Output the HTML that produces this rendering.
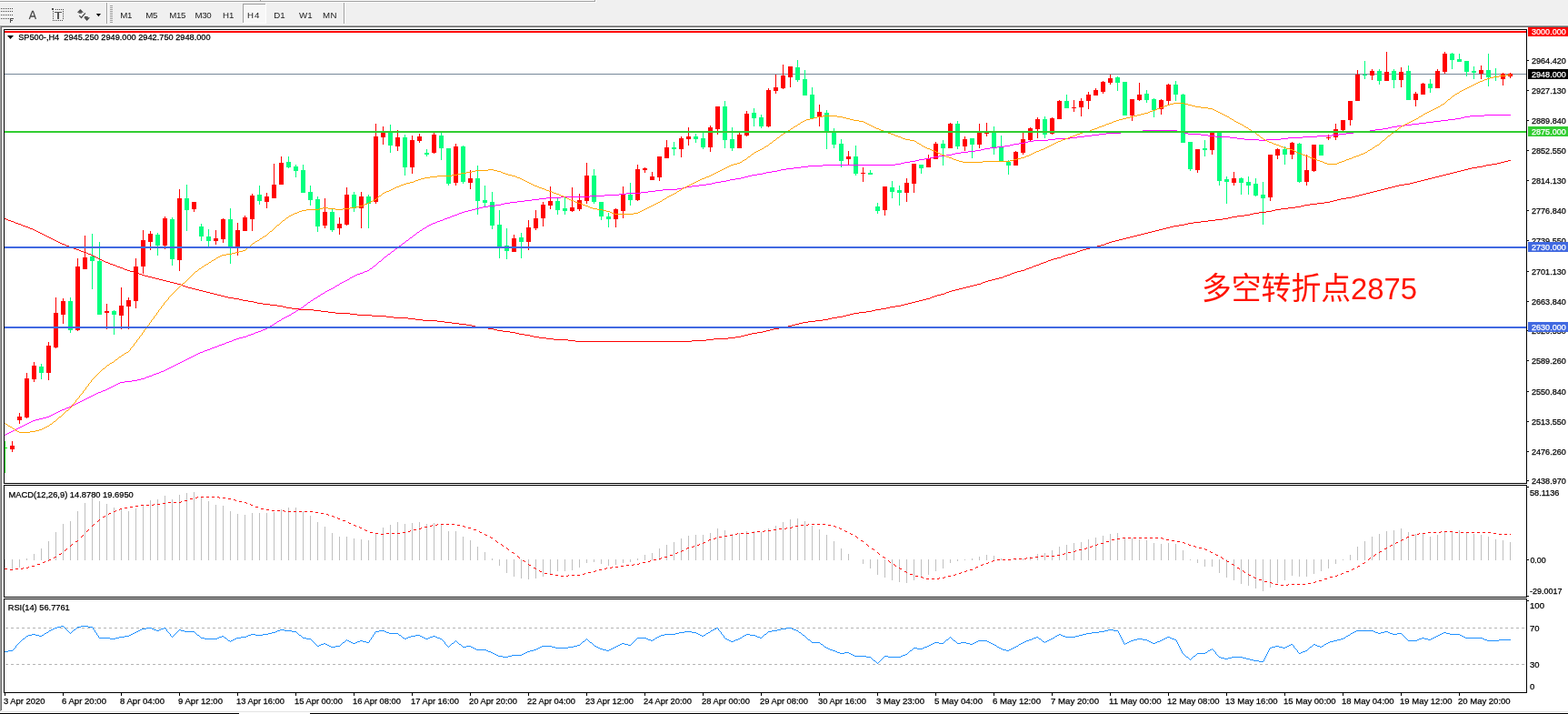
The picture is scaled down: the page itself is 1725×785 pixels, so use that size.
<!DOCTYPE html>
<html><head><meta charset="utf-8"><title>SP500 H4</title>
<style>
html,body{margin:0;padding:0;background:#fff;}
body{width:1725px;height:785px;overflow:hidden;}
svg{display:block;font-family:'Liberation Sans', sans-serif;}
text[font-size="10"]{font-size:9.7px;}
</style></head>
<body>
<svg width="1725" height="785" viewBox="0 0 1725 785">
<rect x="0" y="0" width="1725" height="785" fill="#fff"/>
<rect x="0" y="0" width="1725" height="28" fill="#f0f0f0"/>
<rect x="0" y="0" width="655" height="1" fill="#f9f9f9"/>
<rect x="0" y="1" width="654" height="1" fill="#a0a0a0"/>
<rect x="0" y="2" width="655" height="1" fill="#ffffff"/>
<rect x="654" y="0" width="1" height="2" fill="#a0a0a0"/>
<rect x="655" y="0" width="1" height="3" fill="#ffffff"/>
<rect x="286" y="0" width="1" height="1" fill="#a0a0a0"/>
<rect x="0" y="27" width="1725" height="1" fill="#f5f5f5"/>
<rect x="0" y="28" width="1725" height="1" fill="#a0a0a0"/>
<rect x="1" y="29" width="1724" height="1" fill="#696969"/>
<rect x="1" y="9" width="1" height="1" fill="#4a4a4a"/>
<rect x="3" y="9" width="1" height="1" fill="#4a4a4a"/>
<rect x="5" y="9" width="1" height="1" fill="#4a4a4a"/>
<rect x="7" y="9" width="1" height="1" fill="#4a4a4a"/>
<rect x="9" y="9" width="1" height="1" fill="#4a4a4a"/>
<rect x="11" y="9" width="1" height="1" fill="#4a4a4a"/>
<rect x="13" y="9" width="1" height="1" fill="#4a4a4a"/>
<rect x="1" y="12" width="1" height="1" fill="#4a4a4a"/>
<rect x="3" y="12" width="1" height="1" fill="#4a4a4a"/>
<rect x="5" y="12" width="1" height="1" fill="#4a4a4a"/>
<rect x="7" y="12" width="1" height="1" fill="#4a4a4a"/>
<rect x="9" y="12" width="1" height="1" fill="#4a4a4a"/>
<rect x="11" y="12" width="1" height="1" fill="#4a4a4a"/>
<rect x="13" y="12" width="1" height="1" fill="#4a4a4a"/>
<rect x="1" y="16" width="1" height="1" fill="#4a4a4a"/>
<rect x="3" y="16" width="1" height="1" fill="#4a4a4a"/>
<rect x="5" y="16" width="1" height="1" fill="#4a4a4a"/>
<rect x="7" y="16" width="1" height="1" fill="#4a4a4a"/>
<rect x="9" y="16" width="1" height="1" fill="#4a4a4a"/>
<rect x="11" y="16" width="1" height="1" fill="#4a4a4a"/>
<rect x="13" y="16" width="1" height="1" fill="#4a4a4a"/>
<rect x="1" y="20" width="1" height="1" fill="#4a4a4a"/>
<rect x="3" y="20" width="1" height="1" fill="#4a4a4a"/>
<rect x="5" y="20" width="1" height="1" fill="#4a4a4a"/>
<rect x="7" y="20" width="1" height="1" fill="#4a4a4a"/>
<rect x="9" y="20" width="1" height="1" fill="#4a4a4a"/>
<rect x="11" y="20" width="1" height="5" fill="#4a4a4a"/>
<rect x="11" y="20" width="4" height="1" fill="#4a4a4a"/>
<rect x="11" y="22" width="3" height="1" fill="#4a4a4a"/>
<path d="M32.3,21 L35.6,12.3 L36.4,12.3 L39.4,21 M33.5,18 L38.3,18" fill="none" stroke="#4a4a4a" stroke-width="1.3"/>
<rect x="61" y="10" width="1" height="1" fill="#4a4a4a"/>
<rect x="63" y="10" width="1" height="1" fill="#4a4a4a"/>
<rect x="65" y="10" width="1" height="1" fill="#4a4a4a"/>
<rect x="67" y="10" width="1" height="1" fill="#4a4a4a"/>
<rect x="69" y="10" width="1" height="1" fill="#4a4a4a"/>
<rect x="58" y="12" width="1" height="1" fill="#4a4a4a"/>
<rect x="69" y="12" width="1" height="1" fill="#4a4a4a"/>
<rect x="58" y="14" width="1" height="1" fill="#4a4a4a"/>
<rect x="69" y="14" width="1" height="1" fill="#4a4a4a"/>
<rect x="58" y="16" width="1" height="1" fill="#4a4a4a"/>
<rect x="69" y="16" width="1" height="1" fill="#4a4a4a"/>
<rect x="58" y="18" width="1" height="1" fill="#4a4a4a"/>
<rect x="69" y="18" width="1" height="1" fill="#4a4a4a"/>
<rect x="58" y="20" width="1" height="1" fill="#4a4a4a"/>
<rect x="69" y="20" width="1" height="1" fill="#4a4a4a"/>
<rect x="58" y="22" width="1" height="1" fill="#4a4a4a"/>
<rect x="60" y="22" width="1" height="1" fill="#4a4a4a"/>
<rect x="62" y="22" width="1" height="1" fill="#4a4a4a"/>
<rect x="64" y="22" width="1" height="1" fill="#4a4a4a"/>
<rect x="66" y="22" width="1" height="1" fill="#4a4a4a"/>
<rect x="68" y="22" width="1" height="1" fill="#4a4a4a"/>
<rect x="57" y="9" width="2" height="2" fill="#4a4a4a"/>
<rect x="60" y="13" width="8" height="1" fill="#555"/>
<rect x="63" y="13" width="2" height="8" fill="#555"/>
<path d="M84.8,13.8 L88.4,10 L92,13.8 Z" fill="#4a4a4a"/>
<rect x="86.5" y="13.5" width="3.5" height="1.2" fill="#4a4a4a"/>
<path d="M87.2,17.2 L89.5,19.5 L93.8,14.3" fill="none" stroke="#4a4a4a" stroke-width="1.2"/>
<rect x="93" y="18" width="3.6" height="1.4" fill="#4a4a4a"/>
<path d="M92.2,19.2 L99,19.2 L95.6,23 Z" fill="#4a4a4a"/>
<path d="M105.8,15 L111,15 L108.4,18.2 Z" fill="#000"/>
<rect x="117" y="3" width="1" height="23" fill="#a0a0a0"/>
<rect x="118" y="3" width="1" height="23" fill="#ffffff"/>
<rect x="121" y="6" width="3" height="1" fill="#a0a0a0"/>
<rect x="121" y="8" width="3" height="1" fill="#a0a0a0"/>
<rect x="121" y="10" width="3" height="1" fill="#a0a0a0"/>
<rect x="121" y="12" width="3" height="1" fill="#a0a0a0"/>
<rect x="121" y="14" width="3" height="1" fill="#a0a0a0"/>
<rect x="121" y="16" width="3" height="1" fill="#a0a0a0"/>
<rect x="121" y="18" width="3" height="1" fill="#a0a0a0"/>
<rect x="121" y="20" width="3" height="1" fill="#a0a0a0"/>
<rect x="121" y="22" width="3" height="1" fill="#a0a0a0"/>
<rect x="121" y="24" width="3" height="1" fill="#a0a0a0"/>
<rect x="378" y="3" width="1" height="23" fill="#a0a0a0"/>
<rect x="379" y="3" width="1" height="23" fill="#ffffff"/>
<rect x="267" y="4" width="26" height="22" fill="#ffffff"/>
<rect x="268" y="5" width="24" height="20" fill="#f7f7f7"/>
<rect x="267" y="4" width="25" height="1" fill="#a0a0a0"/>
<rect x="267" y="4" width="1" height="21" fill="#a0a0a0"/>
<text x="132.2" y="20" style="font-size:9.7px" fill="#1a1a1a" textLength="13.3" lengthAdjust="spacing">M1</text>
<text x="160.3" y="20" style="font-size:9.7px" fill="#1a1a1a" textLength="13.2" lengthAdjust="spacing">M5</text>
<text x="186.2" y="20" style="font-size:9.7px" fill="#1a1a1a" textLength="18.1" lengthAdjust="spacing">M15</text>
<text x="214.4" y="20" style="font-size:9.7px" fill="#1a1a1a" textLength="18.2" lengthAdjust="spacing">M30</text>
<text x="245.1" y="20" style="font-size:9.7px" fill="#1a1a1a" textLength="12.4" lengthAdjust="spacing">H1</text>
<text x="272.1" y="20" style="font-size:9.7px" fill="#1a1a1a" textLength="13.2" lengthAdjust="spacing">H4</text>
<text x="301.2" y="20" style="font-size:9.7px" fill="#1a1a1a" textLength="12.4" lengthAdjust="spacing">D1</text>
<text x="329.0" y="20" style="font-size:9.7px" fill="#1a1a1a" textLength="14.6" lengthAdjust="spacing">W1</text>
<text x="355.1" y="20" style="font-size:9.7px" fill="#1a1a1a" textLength="15.4" lengthAdjust="spacing">MN</text>
<rect x="0" y="28" width="1" height="754" fill="#a0a0a0"/>
<rect x="1" y="29" width="1" height="752" fill="#696969"/>
<rect x="1" y="782" width="1724" height="1" fill="#e3e3e3"/>
<rect x="0" y="784" width="263" height="1" fill="#000"/>
<rect x="341" y="784" width="1384" height="1" fill="#000"/>
<rect x="5" y="81" width="1674" height="1" fill="#778899"/>
<rect x="5" y="485" width="1" height="35" fill="#00ff00"/>
<rect x="5" y="492" width="3" height="1" fill="#00ff00"/>
<rect x="13" y="485" width="1" height="12" fill="#ff0000"/>
<rect x="11" y="490" width="5" height="4" fill="#ff0000"/>
<rect x="21" y="454" width="1" height="12" fill="#ff0000"/>
<rect x="19" y="458" width="5" height="4" fill="#ff0000"/>
<rect x="29" y="410" width="1" height="50" fill="#ff0000"/>
<rect x="27" y="416" width="5" height="43" fill="#ff0000"/>
<rect x="37" y="398" width="1" height="22" fill="#ff0000"/>
<rect x="35" y="402" width="5" height="15" fill="#ff0000"/>
<rect x="45" y="400" width="1" height="17" fill="#00ff7f"/>
<rect x="43" y="403" width="5" height="7" fill="#00ff7f"/>
<rect x="53" y="376" width="1" height="42" fill="#ff0000"/>
<rect x="51" y="380" width="5" height="30" fill="#ff0000"/>
<rect x="61" y="327" width="1" height="56" fill="#ff0000"/>
<rect x="59" y="344" width="5" height="38" fill="#ff0000"/>
<rect x="69" y="328" width="1" height="28" fill="#ff0000"/>
<rect x="67" y="331" width="5" height="15" fill="#ff0000"/>
<rect x="77" y="327" width="1" height="39" fill="#00ff7f"/>
<rect x="75" y="331" width="5" height="32" fill="#00ff7f"/>
<rect x="85" y="284" width="1" height="80" fill="#ff0000"/>
<rect x="83" y="293" width="5" height="70" fill="#ff0000"/>
<rect x="93" y="259" width="1" height="37" fill="#ff0000"/>
<rect x="91" y="283" width="5" height="13" fill="#ff0000"/>
<rect x="101" y="257" width="1" height="61" fill="#00ff7f"/>
<rect x="99" y="282" width="5" height="5" fill="#00ff7f"/>
<rect x="109" y="266" width="1" height="80" fill="#00ff7f"/>
<rect x="107" y="287" width="5" height="59" fill="#00ff7f"/>
<rect x="117" y="334" width="1" height="28" fill="#ff0000"/>
<rect x="115" y="342" width="5" height="2" fill="#ff0000"/>
<rect x="125" y="341" width="1" height="27" fill="#00ff7f"/>
<rect x="123" y="342" width="5" height="4" fill="#00ff7f"/>
<rect x="133" y="316" width="1" height="46" fill="#ff0000"/>
<rect x="131" y="336" width="5" height="11" fill="#ff0000"/>
<rect x="141" y="327" width="1" height="35" fill="#ff0000"/>
<rect x="139" y="330" width="5" height="7" fill="#ff0000"/>
<rect x="149" y="284" width="1" height="55" fill="#ff0000"/>
<rect x="147" y="293" width="5" height="38" fill="#ff0000"/>
<rect x="157" y="253" width="1" height="48" fill="#ff0000"/>
<rect x="155" y="264" width="5" height="29" fill="#ff0000"/>
<rect x="165" y="254" width="1" height="21" fill="#ff0000"/>
<rect x="163" y="257" width="5" height="9" fill="#ff0000"/>
<rect x="173" y="256" width="1" height="25" fill="#00ff7f"/>
<rect x="171" y="258" width="5" height="12" fill="#00ff7f"/>
<rect x="181" y="238" width="1" height="36" fill="#ff0000"/>
<rect x="179" y="240" width="5" height="30" fill="#ff0000"/>
<rect x="189" y="239" width="1" height="53" fill="#00ff7f"/>
<rect x="187" y="241" width="5" height="44" fill="#00ff7f"/>
<rect x="197" y="208" width="1" height="90" fill="#ff0000"/>
<rect x="195" y="218" width="5" height="68" fill="#ff0000"/>
<rect x="205" y="203" width="1" height="51" fill="#00ff7f"/>
<rect x="203" y="218" width="5" height="13" fill="#00ff7f"/>
<rect x="213" y="222" width="1" height="11" fill="#ff0000"/>
<rect x="211" y="222" width="5" height="8" fill="#ff0000"/>
<rect x="221" y="246" width="1" height="19" fill="#00ff7f"/>
<rect x="219" y="249" width="5" height="11" fill="#00ff7f"/>
<rect x="229" y="252" width="1" height="19" fill="#00ff7f"/>
<rect x="227" y="260" width="5" height="5" fill="#00ff7f"/>
<rect x="237" y="253" width="1" height="16" fill="#ff0000"/>
<rect x="235" y="262" width="5" height="3" fill="#ff0000"/>
<rect x="245" y="240" width="1" height="27" fill="#ff0000"/>
<rect x="243" y="241" width="5" height="22" fill="#ff0000"/>
<rect x="253" y="229" width="1" height="61" fill="#00ff7f"/>
<rect x="251" y="241" width="5" height="31" fill="#00ff7f"/>
<rect x="261" y="245" width="1" height="36" fill="#ff0000"/>
<rect x="259" y="253" width="5" height="19" fill="#ff0000"/>
<rect x="269" y="237" width="1" height="17" fill="#ff0000"/>
<rect x="267" y="239" width="5" height="15" fill="#ff0000"/>
<rect x="277" y="213" width="1" height="41" fill="#ff0000"/>
<rect x="275" y="215" width="5" height="26" fill="#ff0000"/>
<rect x="285" y="204" width="1" height="21" fill="#00ff7f"/>
<rect x="283" y="214" width="5" height="7" fill="#00ff7f"/>
<rect x="293" y="212" width="1" height="17" fill="#ff0000"/>
<rect x="291" y="216" width="5" height="6" fill="#ff0000"/>
<rect x="301" y="180" width="1" height="38" fill="#ff0000"/>
<rect x="299" y="203" width="5" height="15" fill="#ff0000"/>
<rect x="309" y="172" width="1" height="31" fill="#ff0000"/>
<rect x="307" y="179" width="5" height="24" fill="#ff0000"/>
<rect x="317" y="172" width="1" height="13" fill="#00ff7f"/>
<rect x="315" y="178" width="5" height="6" fill="#00ff7f"/>
<rect x="325" y="181" width="1" height="14" fill="#00ff7f"/>
<rect x="323" y="183" width="5" height="5" fill="#00ff7f"/>
<rect x="333" y="181" width="1" height="31" fill="#00ff7f"/>
<rect x="331" y="187" width="5" height="25" fill="#00ff7f"/>
<rect x="341" y="204" width="1" height="22" fill="#00ff7f"/>
<rect x="339" y="211" width="5" height="9" fill="#00ff7f"/>
<rect x="349" y="216" width="1" height="39" fill="#00ff7f"/>
<rect x="347" y="219" width="5" height="30" fill="#00ff7f"/>
<rect x="357" y="218" width="1" height="33" fill="#ff0000"/>
<rect x="355" y="233" width="5" height="15" fill="#ff0000"/>
<rect x="365" y="230" width="1" height="25" fill="#00ff7f"/>
<rect x="363" y="233" width="5" height="20" fill="#00ff7f"/>
<rect x="373" y="239" width="1" height="19" fill="#ff0000"/>
<rect x="371" y="246" width="5" height="5" fill="#ff0000"/>
<rect x="381" y="206" width="1" height="42" fill="#ff0000"/>
<rect x="379" y="214" width="5" height="33" fill="#ff0000"/>
<rect x="389" y="211" width="1" height="22" fill="#00ff7f"/>
<rect x="387" y="214" width="5" height="15" fill="#00ff7f"/>
<rect x="397" y="211" width="1" height="40" fill="#ff0000"/>
<rect x="395" y="216" width="5" height="13" fill="#ff0000"/>
<rect x="405" y="214" width="1" height="37" fill="#00ff7f"/>
<rect x="403" y="216" width="5" height="8" fill="#00ff7f"/>
<rect x="413" y="136" width="1" height="88" fill="#ff0000"/>
<rect x="411" y="150" width="5" height="72" fill="#ff0000"/>
<rect x="421" y="139" width="1" height="20" fill="#ff0000"/>
<rect x="419" y="146" width="5" height="5" fill="#ff0000"/>
<rect x="429" y="137" width="1" height="31" fill="#00ff7f"/>
<rect x="427" y="146" width="5" height="14" fill="#00ff7f"/>
<rect x="437" y="143" width="1" height="23" fill="#ff0000"/>
<rect x="435" y="151" width="5" height="10" fill="#ff0000"/>
<rect x="445" y="148" width="1" height="45" fill="#00ff7f"/>
<rect x="443" y="151" width="5" height="33" fill="#00ff7f"/>
<rect x="453" y="149" width="1" height="42" fill="#ff0000"/>
<rect x="451" y="154" width="5" height="30" fill="#ff0000"/>
<rect x="461" y="147" width="1" height="10" fill="#ff0000"/>
<rect x="459" y="150" width="5" height="5" fill="#ff0000"/>
<rect x="469" y="164" width="1" height="8" fill="#00ff7f"/>
<rect x="467" y="168" width="5" height="2" fill="#00ff7f"/>
<rect x="477" y="146" width="1" height="23" fill="#ff0000"/>
<rect x="475" y="148" width="5" height="20" fill="#ff0000"/>
<rect x="485" y="146" width="1" height="30" fill="#00ff7f"/>
<rect x="483" y="149" width="5" height="14" fill="#00ff7f"/>
<rect x="493" y="163" width="1" height="41" fill="#00ff7f"/>
<rect x="491" y="163" width="5" height="39" fill="#00ff7f"/>
<rect x="501" y="158" width="1" height="46" fill="#ff0000"/>
<rect x="499" y="161" width="5" height="40" fill="#ff0000"/>
<rect x="509" y="160" width="1" height="42" fill="#00ff7f"/>
<rect x="507" y="161" width="5" height="39" fill="#00ff7f"/>
<rect x="517" y="187" width="1" height="21" fill="#ff0000"/>
<rect x="515" y="196" width="5" height="5" fill="#ff0000"/>
<rect x="525" y="182" width="1" height="54" fill="#00ff7f"/>
<rect x="523" y="196" width="5" height="25" fill="#00ff7f"/>
<rect x="533" y="204" width="1" height="23" fill="#00ff7f"/>
<rect x="531" y="220" width="5" height="3" fill="#00ff7f"/>
<rect x="541" y="211" width="1" height="41" fill="#00ff7f"/>
<rect x="539" y="222" width="5" height="26" fill="#00ff7f"/>
<rect x="549" y="231" width="1" height="53" fill="#00ff7f"/>
<rect x="547" y="247" width="5" height="25" fill="#00ff7f"/>
<rect x="557" y="251" width="1" height="34" fill="#00ff7f"/>
<rect x="555" y="270" width="5" height="6" fill="#00ff7f"/>
<rect x="565" y="258" width="1" height="19" fill="#ff0000"/>
<rect x="563" y="262" width="5" height="15" fill="#ff0000"/>
<rect x="573" y="256" width="1" height="28" fill="#00ff7f"/>
<rect x="571" y="261" width="5" height="5" fill="#00ff7f"/>
<rect x="581" y="242" width="1" height="33" fill="#ff0000"/>
<rect x="579" y="250" width="5" height="16" fill="#ff0000"/>
<rect x="589" y="231" width="1" height="22" fill="#ff0000"/>
<rect x="587" y="240" width="5" height="11" fill="#ff0000"/>
<rect x="597" y="222" width="1" height="27" fill="#ff0000"/>
<rect x="595" y="225" width="5" height="15" fill="#ff0000"/>
<rect x="605" y="205" width="1" height="25" fill="#ff0000"/>
<rect x="603" y="221" width="5" height="5" fill="#ff0000"/>
<rect x="613" y="218" width="1" height="18" fill="#00ff7f"/>
<rect x="611" y="221" width="5" height="10" fill="#00ff7f"/>
<rect x="621" y="217" width="1" height="19" fill="#00ff7f"/>
<rect x="619" y="229" width="5" height="3" fill="#00ff7f"/>
<rect x="629" y="206" width="1" height="27" fill="#ff0000"/>
<rect x="627" y="228" width="5" height="4" fill="#ff0000"/>
<rect x="637" y="213" width="1" height="19" fill="#ff0000"/>
<rect x="635" y="220" width="5" height="10" fill="#ff0000"/>
<rect x="645" y="179" width="1" height="45" fill="#ff0000"/>
<rect x="643" y="193" width="5" height="28" fill="#ff0000"/>
<rect x="653" y="186" width="1" height="38" fill="#00ff7f"/>
<rect x="651" y="193" width="5" height="29" fill="#00ff7f"/>
<rect x="661" y="222" width="1" height="20" fill="#00ff7f"/>
<rect x="659" y="222" width="5" height="16" fill="#00ff7f"/>
<rect x="669" y="234" width="1" height="16" fill="#00ff7f"/>
<rect x="667" y="238" width="5" height="3" fill="#00ff7f"/>
<rect x="677" y="229" width="1" height="21" fill="#ff0000"/>
<rect x="675" y="230" width="5" height="11" fill="#ff0000"/>
<rect x="685" y="205" width="1" height="35" fill="#ff0000"/>
<rect x="683" y="214" width="5" height="18" fill="#ff0000"/>
<rect x="693" y="201" width="1" height="25" fill="#00ff7f"/>
<rect x="691" y="214" width="5" height="6" fill="#00ff7f"/>
<rect x="701" y="181" width="1" height="40" fill="#ff0000"/>
<rect x="699" y="186" width="5" height="34" fill="#ff0000"/>
<rect x="709" y="184" width="1" height="6" fill="#ff0000"/>
<rect x="707" y="185" width="5" height="2" fill="#ff0000"/>
<rect x="717" y="189" width="1" height="9" fill="#ff0000"/>
<rect x="715" y="194" width="5" height="4" fill="#ff0000"/>
<rect x="725" y="172" width="1" height="27" fill="#ff0000"/>
<rect x="723" y="172" width="5" height="23" fill="#ff0000"/>
<rect x="733" y="154" width="1" height="20" fill="#ff0000"/>
<rect x="731" y="162" width="5" height="12" fill="#ff0000"/>
<rect x="741" y="156" width="1" height="15" fill="#00ff7f"/>
<rect x="739" y="162" width="5" height="2" fill="#00ff7f"/>
<rect x="749" y="150" width="1" height="23" fill="#ff0000"/>
<rect x="747" y="152" width="5" height="12" fill="#ff0000"/>
<rect x="757" y="140" width="1" height="20" fill="#ff0000"/>
<rect x="755" y="150" width="5" height="3" fill="#ff0000"/>
<rect x="765" y="147" width="1" height="10" fill="#00ff7f"/>
<rect x="763" y="150" width="5" height="3" fill="#00ff7f"/>
<rect x="773" y="146" width="1" height="18" fill="#00ff7f"/>
<rect x="771" y="152" width="5" height="10" fill="#00ff7f"/>
<rect x="781" y="138" width="1" height="29" fill="#ff0000"/>
<rect x="779" y="140" width="5" height="22" fill="#ff0000"/>
<rect x="789" y="117" width="1" height="31" fill="#ff0000"/>
<rect x="787" y="117" width="5" height="25" fill="#ff0000"/>
<rect x="797" y="111" width="1" height="52" fill="#00ff7f"/>
<rect x="795" y="117" width="5" height="37" fill="#00ff7f"/>
<rect x="805" y="140" width="1" height="26" fill="#00ff7f"/>
<rect x="803" y="153" width="5" height="10" fill="#00ff7f"/>
<rect x="813" y="146" width="1" height="17" fill="#ff0000"/>
<rect x="811" y="148" width="5" height="15" fill="#ff0000"/>
<rect x="821" y="122" width="1" height="28" fill="#ff0000"/>
<rect x="819" y="125" width="5" height="24" fill="#ff0000"/>
<rect x="829" y="119" width="1" height="20" fill="#00ff7f"/>
<rect x="827" y="124" width="5" height="6" fill="#00ff7f"/>
<rect x="837" y="126" width="1" height="15" fill="#00ff7f"/>
<rect x="835" y="129" width="5" height="10" fill="#00ff7f"/>
<rect x="845" y="97" width="1" height="43" fill="#ff0000"/>
<rect x="843" y="99" width="5" height="40" fill="#ff0000"/>
<rect x="853" y="82" width="1" height="21" fill="#ff0000"/>
<rect x="851" y="96" width="5" height="4" fill="#ff0000"/>
<rect x="861" y="71" width="1" height="27" fill="#ff0000"/>
<rect x="859" y="83" width="5" height="14" fill="#ff0000"/>
<rect x="869" y="73" width="1" height="23" fill="#ff0000"/>
<rect x="867" y="73" width="5" height="12" fill="#ff0000"/>
<rect x="877" y="66" width="1" height="24" fill="#00ff7f"/>
<rect x="875" y="74" width="5" height="14" fill="#00ff7f"/>
<rect x="885" y="77" width="1" height="28" fill="#00ff7f"/>
<rect x="883" y="87" width="5" height="18" fill="#00ff7f"/>
<rect x="893" y="96" width="1" height="35" fill="#00ff7f"/>
<rect x="891" y="104" width="5" height="26" fill="#00ff7f"/>
<rect x="901" y="115" width="1" height="24" fill="#ff0000"/>
<rect x="899" y="123" width="5" height="6" fill="#ff0000"/>
<rect x="909" y="121" width="1" height="43" fill="#00ff7f"/>
<rect x="907" y="124" width="5" height="22" fill="#00ff7f"/>
<rect x="917" y="141" width="1" height="22" fill="#00ff7f"/>
<rect x="915" y="145" width="5" height="14" fill="#00ff7f"/>
<rect x="925" y="153" width="1" height="31" fill="#00ff7f"/>
<rect x="923" y="158" width="5" height="19" fill="#00ff7f"/>
<rect x="933" y="166" width="1" height="16" fill="#ff0000"/>
<rect x="931" y="172" width="5" height="3" fill="#ff0000"/>
<rect x="941" y="160" width="1" height="33" fill="#00ff7f"/>
<rect x="939" y="172" width="5" height="19" fill="#00ff7f"/>
<rect x="949" y="184" width="1" height="16" fill="#ff0000"/>
<rect x="947" y="190" width="5" height="1" fill="#ff0000"/>
<rect x="957" y="187" width="1" height="5" fill="#00ff7f"/>
<rect x="955" y="190" width="5" height="2" fill="#00ff7f"/>
<rect x="965" y="223" width="1" height="12" fill="#00ff7f"/>
<rect x="963" y="227" width="5" height="5" fill="#00ff7f"/>
<rect x="973" y="205" width="1" height="32" fill="#ff0000"/>
<rect x="971" y="205" width="5" height="26" fill="#ff0000"/>
<rect x="981" y="199" width="1" height="19" fill="#00ff7f"/>
<rect x="979" y="206" width="5" height="5" fill="#00ff7f"/>
<rect x="989" y="204" width="1" height="22" fill="#00ff7f"/>
<rect x="987" y="209" width="5" height="3" fill="#00ff7f"/>
<rect x="997" y="196" width="1" height="26" fill="#ff0000"/>
<rect x="995" y="201" width="5" height="11" fill="#ff0000"/>
<rect x="1005" y="180" width="1" height="32" fill="#ff0000"/>
<rect x="1003" y="180" width="5" height="22" fill="#ff0000"/>
<rect x="1013" y="181" width="1" height="10" fill="#00ff7f"/>
<rect x="1011" y="181" width="5" height="4" fill="#00ff7f"/>
<rect x="1021" y="170" width="1" height="14" fill="#ff0000"/>
<rect x="1019" y="174" width="5" height="10" fill="#ff0000"/>
<rect x="1029" y="156" width="1" height="19" fill="#ff0000"/>
<rect x="1027" y="158" width="5" height="17" fill="#ff0000"/>
<rect x="1037" y="154" width="1" height="28" fill="#00ff7f"/>
<rect x="1035" y="158" width="5" height="5" fill="#00ff7f"/>
<rect x="1045" y="135" width="1" height="28" fill="#ff0000"/>
<rect x="1043" y="136" width="5" height="27" fill="#ff0000"/>
<rect x="1053" y="133" width="1" height="31" fill="#00ff7f"/>
<rect x="1051" y="136" width="5" height="25" fill="#00ff7f"/>
<rect x="1061" y="150" width="1" height="16" fill="#ff0000"/>
<rect x="1059" y="153" width="5" height="8" fill="#ff0000"/>
<rect x="1069" y="152" width="1" height="22" fill="#00ff7f"/>
<rect x="1067" y="152" width="5" height="7" fill="#00ff7f"/>
<rect x="1077" y="136" width="1" height="27" fill="#ff0000"/>
<rect x="1075" y="146" width="5" height="13" fill="#ff0000"/>
<rect x="1085" y="135" width="1" height="15" fill="#ff0000"/>
<rect x="1083" y="146" width="5" height="1" fill="#ff0000"/>
<rect x="1093" y="139" width="1" height="31" fill="#00ff7f"/>
<rect x="1091" y="146" width="5" height="16" fill="#00ff7f"/>
<rect x="1101" y="149" width="1" height="28" fill="#00ff7f"/>
<rect x="1099" y="162" width="5" height="15" fill="#00ff7f"/>
<rect x="1109" y="176" width="1" height="16" fill="#00ff7f"/>
<rect x="1107" y="178" width="5" height="4" fill="#00ff7f"/>
<rect x="1117" y="166" width="1" height="16" fill="#ff0000"/>
<rect x="1115" y="167" width="5" height="15" fill="#ff0000"/>
<rect x="1125" y="146" width="1" height="24" fill="#ff0000"/>
<rect x="1123" y="153" width="5" height="15" fill="#ff0000"/>
<rect x="1133" y="140" width="1" height="16" fill="#ff0000"/>
<rect x="1131" y="141" width="5" height="13" fill="#ff0000"/>
<rect x="1141" y="129" width="1" height="23" fill="#ff0000"/>
<rect x="1139" y="131" width="5" height="11" fill="#ff0000"/>
<rect x="1149" y="128" width="1" height="24" fill="#00ff7f"/>
<rect x="1147" y="131" width="5" height="17" fill="#00ff7f"/>
<rect x="1157" y="129" width="1" height="19" fill="#ff0000"/>
<rect x="1155" y="130" width="5" height="17" fill="#ff0000"/>
<rect x="1165" y="110" width="1" height="21" fill="#ff0000"/>
<rect x="1163" y="111" width="5" height="20" fill="#ff0000"/>
<rect x="1173" y="104" width="1" height="15" fill="#00ff7f"/>
<rect x="1171" y="111" width="5" height="8" fill="#00ff7f"/>
<rect x="1181" y="110" width="1" height="13" fill="#ff0000"/>
<rect x="1179" y="118" width="5" height="1" fill="#ff0000"/>
<rect x="1189" y="108" width="1" height="20" fill="#ff0000"/>
<rect x="1187" y="111" width="5" height="7" fill="#ff0000"/>
<rect x="1197" y="101" width="1" height="19" fill="#ff0000"/>
<rect x="1195" y="104" width="5" height="7" fill="#ff0000"/>
<rect x="1205" y="97" width="1" height="8" fill="#ff0000"/>
<rect x="1203" y="99" width="5" height="6" fill="#ff0000"/>
<rect x="1213" y="89" width="1" height="14" fill="#ff0000"/>
<rect x="1211" y="90" width="5" height="11" fill="#ff0000"/>
<rect x="1221" y="82" width="1" height="11" fill="#ff0000"/>
<rect x="1219" y="86" width="5" height="5" fill="#ff0000"/>
<rect x="1229" y="84" width="1" height="16" fill="#00ff7f"/>
<rect x="1227" y="85" width="5" height="6" fill="#00ff7f"/>
<rect x="1237" y="90" width="1" height="37" fill="#00ff7f"/>
<rect x="1235" y="90" width="5" height="37" fill="#00ff7f"/>
<rect x="1245" y="109" width="1" height="24" fill="#ff0000"/>
<rect x="1243" y="109" width="5" height="18" fill="#ff0000"/>
<rect x="1253" y="91" width="1" height="20" fill="#ff0000"/>
<rect x="1251" y="104" width="5" height="6" fill="#ff0000"/>
<rect x="1261" y="99" width="1" height="14" fill="#00ff7f"/>
<rect x="1259" y="103" width="5" height="7" fill="#00ff7f"/>
<rect x="1269" y="108" width="1" height="21" fill="#00ff7f"/>
<rect x="1267" y="109" width="5" height="12" fill="#00ff7f"/>
<rect x="1277" y="109" width="1" height="17" fill="#ff0000"/>
<rect x="1275" y="110" width="5" height="10" fill="#ff0000"/>
<rect x="1285" y="92" width="1" height="23" fill="#ff0000"/>
<rect x="1283" y="93" width="5" height="18" fill="#ff0000"/>
<rect x="1293" y="89" width="1" height="22" fill="#00ff7f"/>
<rect x="1291" y="93" width="5" height="11" fill="#00ff7f"/>
<rect x="1301" y="103" width="1" height="54" fill="#00ff7f"/>
<rect x="1299" y="104" width="5" height="53" fill="#00ff7f"/>
<rect x="1309" y="156" width="1" height="32" fill="#00ff7f"/>
<rect x="1307" y="156" width="5" height="30" fill="#00ff7f"/>
<rect x="1317" y="164" width="1" height="26" fill="#ff0000"/>
<rect x="1315" y="164" width="5" height="23" fill="#ff0000"/>
<rect x="1325" y="154" width="1" height="18" fill="#00ff7f"/>
<rect x="1323" y="163" width="5" height="2" fill="#00ff7f"/>
<rect x="1333" y="146" width="1" height="24" fill="#ff0000"/>
<rect x="1331" y="146" width="5" height="19" fill="#ff0000"/>
<rect x="1341" y="146" width="1" height="58" fill="#00ff7f"/>
<rect x="1339" y="146" width="5" height="53" fill="#00ff7f"/>
<rect x="1349" y="194" width="1" height="30" fill="#00ff7f"/>
<rect x="1347" y="197" width="5" height="3" fill="#00ff7f"/>
<rect x="1357" y="189" width="1" height="15" fill="#ff0000"/>
<rect x="1355" y="196" width="5" height="5" fill="#ff0000"/>
<rect x="1365" y="195" width="1" height="19" fill="#00ff7f"/>
<rect x="1363" y="196" width="5" height="5" fill="#00ff7f"/>
<rect x="1373" y="194" width="1" height="20" fill="#00ff7f"/>
<rect x="1371" y="200" width="5" height="4" fill="#00ff7f"/>
<rect x="1381" y="196" width="1" height="20" fill="#00ff7f"/>
<rect x="1379" y="202" width="5" height="13" fill="#00ff7f"/>
<rect x="1389" y="200" width="1" height="47" fill="#00ff7f"/>
<rect x="1387" y="214" width="5" height="4" fill="#00ff7f"/>
<rect x="1397" y="170" width="1" height="51" fill="#ff0000"/>
<rect x="1395" y="170" width="5" height="47" fill="#ff0000"/>
<rect x="1405" y="163" width="1" height="12" fill="#ff0000"/>
<rect x="1403" y="164" width="5" height="7" fill="#ff0000"/>
<rect x="1413" y="161" width="1" height="20" fill="#00ff7f"/>
<rect x="1411" y="164" width="5" height="6" fill="#00ff7f"/>
<rect x="1421" y="156" width="1" height="19" fill="#ff0000"/>
<rect x="1419" y="157" width="5" height="13" fill="#ff0000"/>
<rect x="1429" y="157" width="1" height="44" fill="#00ff7f"/>
<rect x="1427" y="158" width="5" height="42" fill="#00ff7f"/>
<rect x="1437" y="170" width="1" height="34" fill="#ff0000"/>
<rect x="1435" y="187" width="5" height="13" fill="#ff0000"/>
<rect x="1445" y="159" width="1" height="30" fill="#ff0000"/>
<rect x="1443" y="159" width="5" height="29" fill="#ff0000"/>
<rect x="1453" y="159" width="1" height="12" fill="#00ff7f"/>
<rect x="1451" y="159" width="5" height="12" fill="#00ff7f"/>
<rect x="1461" y="148" width="1" height="6" fill="#ff0000"/>
<rect x="1459" y="151" width="5" height="1" fill="#ff0000"/>
<rect x="1469" y="136" width="1" height="18" fill="#ff0000"/>
<rect x="1467" y="142" width="5" height="9" fill="#ff0000"/>
<rect x="1477" y="132" width="1" height="14" fill="#ff0000"/>
<rect x="1475" y="132" width="5" height="11" fill="#ff0000"/>
<rect x="1485" y="111" width="1" height="27" fill="#ff0000"/>
<rect x="1483" y="111" width="5" height="21" fill="#ff0000"/>
<rect x="1493" y="77" width="1" height="34" fill="#ff0000"/>
<rect x="1491" y="82" width="5" height="29" fill="#ff0000"/>
<rect x="1501" y="67" width="1" height="20" fill="#00ff7f"/>
<rect x="1499" y="82" width="5" height="1" fill="#00ff7f"/>
<rect x="1509" y="76" width="1" height="12" fill="#ff0000"/>
<rect x="1507" y="78" width="5" height="5" fill="#ff0000"/>
<rect x="1517" y="76" width="1" height="17" fill="#00ff7f"/>
<rect x="1515" y="78" width="5" height="11" fill="#00ff7f"/>
<rect x="1525" y="57" width="1" height="32" fill="#ff0000"/>
<rect x="1523" y="79" width="5" height="10" fill="#ff0000"/>
<rect x="1533" y="76" width="1" height="21" fill="#00ff7f"/>
<rect x="1531" y="78" width="5" height="10" fill="#00ff7f"/>
<rect x="1541" y="74" width="1" height="22" fill="#ff0000"/>
<rect x="1539" y="79" width="5" height="9" fill="#ff0000"/>
<rect x="1549" y="72" width="1" height="38" fill="#00ff7f"/>
<rect x="1547" y="78" width="5" height="32" fill="#00ff7f"/>
<rect x="1557" y="101" width="1" height="16" fill="#ff0000"/>
<rect x="1555" y="103" width="5" height="7" fill="#ff0000"/>
<rect x="1565" y="91" width="1" height="13" fill="#ff0000"/>
<rect x="1563" y="92" width="5" height="12" fill="#ff0000"/>
<rect x="1573" y="87" width="1" height="15" fill="#00ff7f"/>
<rect x="1571" y="92" width="5" height="5" fill="#00ff7f"/>
<rect x="1581" y="76" width="1" height="21" fill="#ff0000"/>
<rect x="1579" y="78" width="5" height="19" fill="#ff0000"/>
<rect x="1589" y="57" width="1" height="24" fill="#ff0000"/>
<rect x="1587" y="59" width="5" height="20" fill="#ff0000"/>
<rect x="1597" y="58" width="1" height="18" fill="#00ff7f"/>
<rect x="1595" y="59" width="5" height="7" fill="#00ff7f"/>
<rect x="1605" y="59" width="1" height="9" fill="#00ff7f"/>
<rect x="1603" y="65" width="5" height="3" fill="#00ff7f"/>
<rect x="1613" y="67" width="1" height="17" fill="#00ff7f"/>
<rect x="1611" y="67" width="5" height="12" fill="#00ff7f"/>
<rect x="1621" y="73" width="1" height="14" fill="#00ff7f"/>
<rect x="1619" y="78" width="5" height="2" fill="#00ff7f"/>
<rect x="1629" y="72" width="1" height="15" fill="#ff0000"/>
<rect x="1627" y="77" width="5" height="4" fill="#ff0000"/>
<rect x="1637" y="59" width="1" height="36" fill="#00ff7f"/>
<rect x="1635" y="77" width="5" height="8" fill="#00ff7f"/>
<rect x="1645" y="75" width="1" height="14" fill="#00ff7f"/>
<rect x="1653" y="80" width="1" height="14" fill="#ff0000"/>
<rect x="1651" y="81" width="5" height="6" fill="#ff0000"/>
<rect x="1661" y="80" width="1" height="6" fill="#ff0000"/>
<rect x="1659" y="81" width="5" height="3" fill="#ff0000"/>
<path d="M1659 176h3v1h-3zM1655 177h4v1h-4zM1651 178h4v1h-4zM1647 179h4v1h-4zM1641 180h6v1h-6zM1635 181h6v1h-6zM1631 182h4v1h-4zM1625 183h6v1h-6zM1619 184h6v1h-6zM1615 185h4v1h-4zM1611 186h4v1h-4zM1607 187h4v1h-4zM1603 188h4v1h-4zM1599 189h4v1h-4zM1595 190h4v1h-4zM1591 191h4v1h-4zM1587 192h4v1h-4zM1583 193h4v1h-4zM1579 194h4v1h-4zM1575 195h4v1h-4zM1571 196h4v1h-4zM1567 197h4v1h-4zM1563 198h4v1h-4zM1559 199h4v1h-4zM1555 200h4v1h-4zM1551 201h4v1h-4zM1545 202h6v1h-6zM1539 203h6v1h-6zM1535 204h4v1h-4zM1531 205h4v1h-4zM1527 206h4v1h-4zM1523 207h4v1h-4zM1519 208h4v1h-4zM1515 209h4v1h-4zM1511 210h4v1h-4zM1507 211h4v1h-4zM1503 212h4v1h-4zM1499 213h4v1h-4zM1495 214h4v1h-4zM1491 215h4v1h-4zM1487 216h4v1h-4zM1481 217h6v1h-6zM1475 218h6v1h-6zM1471 219h4v1h-4zM1467 220h4v1h-4zM1463 221h4v1h-4zM1457 222h6v1h-6zM1449 223h8v1h-8zM1441 224h8v1h-8zM1435 225h6v1h-6zM1431 226h4v1h-4zM1425 227h6v1h-6zM1417 228h8v1h-8zM1409 229h8v1h-8zM1403 230h6v1h-6zM1399 231h4v1h-4zM1393 232h6v1h-6zM1385 233h8v1h-8zM1379 234h6v1h-6zM1375 235h4v1h-4zM1369 236h6v1h-6zM1361 237h8v1h-8zM1355 238h6v1h-6zM1351 239h4v1h-4zM5 240h2v1h-2zM1345 240h6v1h-6zM7 241h2v1h-2zM1337 241h8v1h-8zM9 242h3v1h-3zM1329 242h8v1h-8zM12 243h3v1h-3zM1321 243h8v1h-8zM15 244h2v1h-2zM1313 244h8v1h-8zM17 245h3v1h-3zM1307 245h6v1h-6zM20 246h3v1h-3zM1303 246h4v1h-4zM23 247h2v1h-2zM1297 247h6v1h-6zM25 248h3v1h-3zM1291 248h6v1h-6zM28 249h3v1h-3zM1287 249h4v1h-4zM31 250h2v1h-2zM1283 250h4v1h-4zM33 251h3v1h-3zM1279 251h4v1h-4zM36 252h2v1h-2zM1275 252h4v1h-4zM38 253h2v1h-2zM1271 253h4v1h-4zM40 254h2v1h-2zM1267 254h4v1h-4zM42 255h2v1h-2zM1263 255h4v1h-4zM44 256h2v1h-2zM1259 256h4v1h-4zM46 257h2v1h-2zM1255 257h4v1h-4zM48 258h2v1h-2zM1251 258h4v1h-4zM50 259h2v1h-2zM1247 259h4v1h-4zM52 260h2v1h-2zM1243 260h4v1h-4zM54 261h2v1h-2zM1239 261h4v1h-4zM56 262h2v1h-2zM1235 262h4v1h-4zM58 263h2v1h-2zM1231 263h4v1h-4zM60 264h2v1h-2zM1227 264h4v1h-4zM62 265h2v1h-2zM1223 265h4v1h-4zM64 266h2v1h-2zM1220 266h3v1h-3zM66 267h2v1h-2zM1217 267h3v1h-3zM68 268h3v1h-3zM1215 268h2v1h-2zM71 269h2v1h-2zM1211 269h4v1h-4zM73 270h3v1h-3zM1207 270h4v1h-4zM76 271h3v1h-3zM1203 271h4v1h-4zM79 272h2v1h-2zM1199 272h4v1h-4zM81 273h3v1h-3zM1195 273h4v1h-4zM84 274h3v1h-3zM1191 274h4v1h-4zM87 275h2v1h-2zM1188 275h3v1h-3zM89 276h3v1h-3zM1185 276h3v1h-3zM92 277h3v1h-3zM1183 277h2v1h-2zM95 278h2v1h-2zM1179 278h4v1h-4zM97 279h3v1h-3zM1175 279h4v1h-4zM100 280h2v1h-2zM1172 280h3v1h-3zM102 281h2v1h-2zM1169 281h3v1h-3zM104 282h2v1h-2zM1167 282h2v1h-2zM106 283h2v1h-2zM1163 283h4v1h-4zM108 284h2v1h-2zM1159 284h4v1h-4zM110 285h2v1h-2zM1156 285h3v1h-3zM112 286h2v1h-2zM1153 286h3v1h-3zM114 287h2v1h-2zM1151 287h2v1h-2zM116 288h3v1h-3zM1148 288h3v1h-3zM119 289h2v1h-2zM1145 289h3v1h-3zM121 290h3v1h-3zM1143 290h2v1h-2zM124 291h3v1h-3zM1140 291h3v1h-3zM127 292h2v1h-2zM1137 292h3v1h-3zM129 293h3v1h-3zM1135 293h2v1h-2zM132 294h3v1h-3zM1132 294h3v1h-3zM135 295h2v1h-2zM1129 295h3v1h-3zM137 296h3v1h-3zM1127 296h2v1h-2zM140 297h3v1h-3zM1123 297h4v1h-4zM143 298h4v1h-4zM1119 298h4v1h-4zM147 299h4v1h-4zM1116 299h3v1h-3zM151 300h2v1h-2zM1113 300h3v1h-3zM153 301h3v1h-3zM1111 301h2v1h-2zM156 302h3v1h-3zM1108 302h3v1h-3zM159 303h4v1h-4zM1105 303h3v1h-3zM163 304h4v1h-4zM1103 304h2v1h-2zM167 305h4v1h-4zM1099 305h4v1h-4zM171 306h4v1h-4zM1095 306h4v1h-4zM175 307h4v1h-4zM1091 307h4v1h-4zM179 308h4v1h-4zM1087 308h4v1h-4zM183 309h4v1h-4zM1084 309h3v1h-3zM187 310h4v1h-4zM1081 310h3v1h-3zM191 311h4v1h-4zM1079 311h2v1h-2zM195 312h4v1h-4zM1075 312h4v1h-4zM199 313h2v1h-2zM1071 313h4v1h-4zM201 314h3v1h-3zM1067 314h4v1h-4zM204 315h3v1h-3zM1063 315h4v1h-4zM207 316h4v1h-4zM1059 316h4v1h-4zM211 317h4v1h-4zM1055 317h4v1h-4zM215 318h4v1h-4zM1051 318h4v1h-4zM219 319h4v1h-4zM1047 319h4v1h-4zM223 320h4v1h-4zM1044 320h3v1h-3zM227 321h4v1h-4zM1041 321h3v1h-3zM231 322h4v1h-4zM1039 322h2v1h-2zM235 323h4v1h-4zM1035 323h4v1h-4zM239 324h4v1h-4zM1031 324h4v1h-4zM243 325h4v1h-4zM1028 325h3v1h-3zM247 326h4v1h-4zM1025 326h3v1h-3zM251 327h6v1h-6zM1023 327h2v1h-2zM257 328h6v1h-6zM1019 328h4v1h-4zM263 329h4v1h-4zM1015 329h4v1h-4zM267 330h6v1h-6zM1011 330h4v1h-4zM273 331h6v1h-6zM1007 331h4v1h-4zM279 332h4v1h-4zM1003 332h4v1h-4zM283 333h6v1h-6zM999 333h4v1h-4zM289 334h8v1h-8zM995 334h4v1h-4zM297 335h8v1h-8zM991 335h4v1h-4zM305 336h6v1h-6zM985 336h6v1h-6zM311 337h4v1h-4zM979 337h6v1h-6zM315 338h6v1h-6zM975 338h4v1h-4zM321 339h8v1h-8zM969 339h6v1h-6zM329 340h16v1h-16zM963 340h6v1h-6zM345 341h8v1h-8zM959 341h4v1h-4zM353 342h8v1h-8zM953 342h6v1h-6zM361 343h8v1h-8zM945 343h8v1h-8zM369 344h16v1h-16zM939 344h6v1h-6zM385 345h8v1h-8zM935 345h4v1h-4zM393 346h16v1h-16zM931 346h4v1h-4zM409 347h16v1h-16zM927 347h4v1h-4zM425 348h8v1h-8zM921 348h6v1h-6zM433 349h16v1h-16zM915 349h6v1h-6zM449 350h8v1h-8zM911 350h4v1h-4zM457 351h8v1h-8zM905 351h6v1h-6zM465 352h16v1h-16zM897 352h8v1h-8zM481 353h8v1h-8zM889 353h8v1h-8zM489 354h8v1h-8zM883 354h6v1h-6zM497 355h8v1h-8zM879 355h4v1h-4zM505 356h8v1h-8zM875 356h4v1h-4zM513 357h6v1h-6zM871 357h4v1h-4zM519 358h4v1h-4zM867 358h4v1h-4zM523 359h6v1h-6zM863 359h4v1h-4zM529 360h8v1h-8zM857 360h6v1h-6zM537 361h6v1h-6zM851 361h6v1h-6zM543 362h4v1h-4zM847 362h4v1h-4zM547 363h6v1h-6zM843 363h4v1h-4zM553 364h8v1h-8zM839 364h4v1h-4zM561 365h6v1h-6zM833 365h6v1h-6zM567 366h4v1h-4zM827 366h6v1h-6zM571 367h6v1h-6zM823 367h4v1h-4zM577 368h6v1h-6zM819 368h4v1h-4zM583 369h4v1h-4zM815 369h4v1h-4zM587 370h6v1h-6zM809 370h6v1h-6zM593 371h8v1h-8zM801 371h8v1h-8zM601 372h8v1h-8zM785 372h16v1h-16zM609 373h16v1h-16zM777 373h8v1h-8zM625 374h8v1h-8zM761 374h16v1h-16zM633 375h128v1h-128z" fill="#ff0000" shape-rendering="crispEdges"/>
<path d="M1633 126h29v1h-29zM1617 127h16v1h-16zM1611 128h6v1h-6zM1607 129h4v1h-4zM1601 130h6v1h-6zM1593 131h8v1h-8zM1585 132h8v1h-8zM1577 133h8v1h-8zM1569 134h8v1h-8zM1561 135h8v1h-8zM1553 136h8v1h-8zM1545 137h8v1h-8zM1537 138h8v1h-8zM1531 139h6v1h-6zM1527 140h4v1h-4zM1521 141h6v1h-6zM1513 142h8v1h-8zM1257 143h38v1h-38zM1507 143h6v1h-6zM1241 144h16v1h-16zM1295 144h4v1h-4zM1503 144h4v1h-4zM1233 145h8v1h-8zM1299 145h4v1h-4zM1489 145h14v1h-14zM1217 146h16v1h-16zM1303 146h4v1h-4zM1481 146h8v1h-8zM1209 147h8v1h-8zM1307 147h14v1h-14zM1473 147h8v1h-8zM1201 148h8v1h-8zM1321 148h8v1h-8zM1465 148h8v1h-8zM1193 149h8v1h-8zM1329 149h8v1h-8zM1449 149h16v1h-16zM1185 150h8v1h-8zM1337 150h16v1h-16zM1433 150h16v1h-16zM1177 151h8v1h-8zM1353 151h8v1h-8zM1417 151h16v1h-16zM1161 152h16v1h-16zM1361 152h8v1h-8zM1409 152h8v1h-8zM1153 153h8v1h-8zM1369 153h16v1h-16zM1393 153h16v1h-16zM1137 154h16v1h-16zM1385 154h8v1h-8zM1131 155h6v1h-6zM1127 156h4v1h-4zM1121 157h6v1h-6zM1115 158h6v1h-6zM1111 159h4v1h-4zM1105 160h6v1h-6zM1097 161h8v1h-8zM1089 162h8v1h-8zM1083 163h6v1h-6zM1079 164h4v1h-4zM1073 165h6v1h-6zM1065 166h8v1h-8zM1057 167h8v1h-8zM1051 168h6v1h-6zM1047 169h4v1h-4zM1041 170h6v1h-6zM1033 171h8v1h-8zM1027 172h6v1h-6zM1023 173h4v1h-4zM1017 174h6v1h-6zM1011 175h6v1h-6zM1007 176h4v1h-4zM1001 177h6v1h-6zM995 178h6v1h-6zM991 179h4v1h-4zM985 180h6v1h-6zM905 181h80v1h-80zM889 182h16v1h-16zM881 183h8v1h-8zM873 184h8v1h-8zM865 185h8v1h-8zM859 186h6v1h-6zM855 187h4v1h-4zM849 188h6v1h-6zM843 189h6v1h-6zM839 190h4v1h-4zM833 191h6v1h-6zM827 192h6v1h-6zM823 193h4v1h-4zM819 194h4v1h-4zM815 195h4v1h-4zM809 196h6v1h-6zM803 197h6v1h-6zM799 198h4v1h-4zM793 199h6v1h-6zM787 200h6v1h-6zM783 201h4v1h-4zM777 202h6v1h-6zM769 203h8v1h-8zM761 204h8v1h-8zM755 205h6v1h-6zM751 206h4v1h-4zM745 207h6v1h-6zM729 208h16v1h-16zM721 209h8v1h-8zM713 210h8v1h-8zM705 211h8v1h-8zM689 212h16v1h-16zM681 213h8v1h-8zM665 214h16v1h-16zM649 215h16v1h-16zM617 216h32v1h-32zM601 217h16v1h-16zM593 218h8v1h-8zM585 219h8v1h-8zM577 220h8v1h-8zM569 221h8v1h-8zM561 222h8v1h-8zM555 223h6v1h-6zM551 224h4v1h-4zM545 225h6v1h-6zM537 226h8v1h-8zM531 227h6v1h-6zM527 228h4v1h-4zM523 229h4v1h-4zM519 230h4v1h-4zM515 231h4v1h-4zM511 232h4v1h-4zM508 233h3v1h-3zM505 234h3v1h-3zM503 235h2v1h-2zM500 236h3v1h-3zM497 237h3v1h-3zM495 238h2v1h-2zM492 239h3v1h-3zM489 240h3v1h-3zM487 241h2v1h-2zM484 242h3v1h-3zM481 243h3v1h-3zM479 244h2v1h-2zM476 245h3v1h-3zM474 246h2v1h-2zM472 247h2v1h-2zM470 248h2v1h-2zM469 249h1v1h-1zM467 250h2v1h-2zM465 251h2v1h-2zM464 252h1v1h-1zM462 253h2v1h-2zM461 254h1v1h-1zM459 255h2v1h-2zM458 256h1v1h-1zM457 257h1v1h-1zM455 258h2v1h-2zM454 259h1v1h-1zM453 260h1v1h-1zM451 261h2v1h-2zM450 262h1v1h-1zM449 263h1v1h-1zM447 264h2v1h-2zM446 265h1v1h-1zM445 266h1v1h-1zM443 267h2v1h-2zM442 268h1v1h-1zM441 269h1v1h-1zM439 270h2v1h-2zM438 271h1v1h-1zM437 272h1v1h-1zM435 273h2v1h-2zM434 274h1v1h-1zM433 275h1v1h-1zM431 276h2v1h-2zM430 277h1v1h-1zM429 278h1v1h-1zM427 279h2v1h-2zM426 280h1v1h-1zM425 281h1v1h-1zM423 282h2v1h-2zM422 283h1v1h-1zM421 284h1v1h-1zM420 285h1v1h-1zM419 286h1v1h-1zM417 287h2v1h-2zM416 288h1v1h-1zM415 289h1v1h-1zM414 290h1v1h-1zM413 291h1v1h-1zM411 292h2v1h-2zM410 293h1v1h-1zM409 294h1v1h-1zM407 295h2v1h-2zM406 296h1v1h-1zM404 297h2v1h-2zM401 298h3v1h-3zM399 299h2v1h-2zM396 300h3v1h-3zM393 301h3v1h-3zM391 302h2v1h-2zM389 303h2v1h-2zM387 304h2v1h-2zM385 305h2v1h-2zM384 306h1v1h-1zM382 307h2v1h-2zM380 308h2v1h-2zM378 309h2v1h-2zM376 310h2v1h-2zM374 311h2v1h-2zM373 312h1v1h-1zM371 313h2v1h-2zM369 314h2v1h-2zM368 315h1v1h-1zM366 316h2v1h-2zM364 317h2v1h-2zM362 318h2v1h-2zM360 319h2v1h-2zM358 320h2v1h-2zM357 321h1v1h-1zM355 322h2v1h-2zM353 323h2v1h-2zM352 324h1v1h-1zM350 325h2v1h-2zM349 326h1v1h-1zM347 327h2v1h-2zM345 328h2v1h-2zM344 329h1v1h-1zM342 330h2v1h-2zM341 331h1v1h-1zM339 332h2v1h-2zM338 333h1v1h-1zM337 334h1v1h-1zM335 335h2v1h-2zM334 336h1v1h-1zM333 337h1v1h-1zM331 338h2v1h-2zM329 339h2v1h-2zM328 340h1v1h-1zM326 341h2v1h-2zM325 342h1v1h-1zM323 343h2v1h-2zM321 344h2v1h-2zM320 345h1v1h-1zM318 346h2v1h-2zM316 347h2v1h-2zM314 348h2v1h-2zM312 349h2v1h-2zM310 350h2v1h-2zM309 351h1v1h-1zM307 352h2v1h-2zM305 353h2v1h-2zM304 354h1v1h-1zM302 355h2v1h-2zM301 356h1v1h-1zM299 357h2v1h-2zM297 358h2v1h-2zM296 359h1v1h-1zM294 360h2v1h-2zM292 361h2v1h-2zM289 362h3v1h-3zM287 363h2v1h-2zM284 364h3v1h-3zM281 365h3v1h-3zM279 366h2v1h-2zM276 367h3v1h-3zM273 368h3v1h-3zM271 369h2v1h-2zM267 370h4v1h-4zM263 371h4v1h-4zM260 372h3v1h-3zM257 373h3v1h-3zM255 374h2v1h-2zM252 375h3v1h-3zM249 376h3v1h-3zM247 377h2v1h-2zM244 378h3v1h-3zM241 379h3v1h-3zM239 380h2v1h-2zM236 381h3v1h-3zM233 382h3v1h-3zM231 383h2v1h-2zM228 384h3v1h-3zM225 385h3v1h-3zM223 386h2v1h-2zM220 387h3v1h-3zM218 388h2v1h-2zM216 389h2v1h-2zM214 390h2v1h-2zM212 391h2v1h-2zM210 392h2v1h-2zM208 393h2v1h-2zM206 394h2v1h-2zM204 395h2v1h-2zM202 396h2v1h-2zM200 397h2v1h-2zM198 398h2v1h-2zM196 399h2v1h-2zM194 400h2v1h-2zM192 401h2v1h-2zM190 402h2v1h-2zM188 403h2v1h-2zM186 404h2v1h-2zM184 405h2v1h-2zM182 406h2v1h-2zM180 407h2v1h-2zM177 408h3v1h-3zM175 409h2v1h-2zM172 410h3v1h-3zM169 411h3v1h-3zM167 412h2v1h-2zM164 413h3v1h-3zM161 414h3v1h-3zM159 415h2v1h-2zM155 416h4v1h-4zM151 417h4v1h-4zM145 418h6v1h-6zM137 419h8v1h-8zM132 420h5v1h-5zM130 421h2v1h-2zM128 422h2v1h-2zM126 423h2v1h-2zM124 424h2v1h-2zM122 425h2v1h-2zM120 426h2v1h-2zM118 427h2v1h-2zM116 428h2v1h-2zM113 429h3v1h-3zM111 430h2v1h-2zM108 431h3v1h-3zM106 432h2v1h-2zM104 433h2v1h-2zM102 434h2v1h-2zM100 435h2v1h-2zM98 436h2v1h-2zM96 437h2v1h-2zM94 438h2v1h-2zM92 439h2v1h-2zM90 440h2v1h-2zM88 441h2v1h-2zM86 442h2v1h-2zM84 443h2v1h-2zM82 444h2v1h-2zM80 445h2v1h-2zM78 446h2v1h-2zM76 447h2v1h-2zM73 448h3v1h-3zM71 449h2v1h-2zM68 450h3v1h-3zM66 451h2v1h-2zM64 452h2v1h-2zM62 453h2v1h-2zM60 454h2v1h-2zM58 455h2v1h-2zM56 456h2v1h-2zM54 457h2v1h-2zM51 458h3v1h-3zM47 459h4v1h-4zM43 460h4v1h-4zM39 461h4v1h-4zM36 462h3v1h-3zM34 463h2v1h-2zM32 464h2v1h-2zM30 465h2v1h-2zM28 466h2v1h-2zM26 467h2v1h-2zM24 468h2v1h-2zM22 469h2v1h-2zM20 470h2v1h-2zM18 471h2v1h-2zM16 472h2v1h-2zM14 473h2v1h-2zM12 474h2v1h-2zM10 475h2v1h-2zM8 476h2v1h-2zM6 477h2v1h-2zM5 478h1v1h-1z" fill="#ff00ff" shape-rendering="crispEdges"/>
<path d="M1657 82h5v1h-5zM1649 83h8v1h-8zM1643 84h6v1h-6zM1639 85h4v1h-4zM1636 86h3v1h-3zM1633 87h3v1h-3zM1631 88h2v1h-2zM1628 89h3v1h-3zM1626 90h2v1h-2zM1624 91h2v1h-2zM1622 92h2v1h-2zM1620 93h2v1h-2zM1618 94h2v1h-2zM1616 95h2v1h-2zM1614 96h2v1h-2zM1612 97h2v1h-2zM1610 98h2v1h-2zM1608 99h2v1h-2zM1606 100h2v1h-2zM1605 101h1v1h-1zM1603 102h2v1h-2zM1601 103h2v1h-2zM1600 104h1v1h-1zM1598 105h2v1h-2zM1597 106h1v1h-1zM1596 107h1v1h-1zM1595 108h1v1h-1zM1593 109h2v1h-2zM1592 110h1v1h-1zM1591 111h1v1h-1zM1590 112h1v1h-1zM1291 113h12v1h-12zM1589 113h1v1h-1zM1287 114h4v1h-4zM1303 114h4v1h-4zM1587 114h2v1h-2zM1284 115h3v1h-3zM1307 115h4v1h-4zM1585 115h2v1h-2zM1281 116h3v1h-3zM1311 116h4v1h-4zM1584 116h1v1h-1zM1279 117h2v1h-2zM1315 117h6v1h-6zM1582 117h2v1h-2zM1276 118h3v1h-3zM1321 118h8v1h-8zM1580 118h2v1h-2zM1273 119h3v1h-3zM1329 119h5v1h-5zM1578 119h2v1h-2zM1271 120h2v1h-2zM1334 120h2v1h-2zM1576 120h2v1h-2zM1268 121h3v1h-3zM1336 121h2v1h-2zM1574 121h2v1h-2zM1265 122h3v1h-3zM1338 122h2v1h-2zM1572 122h2v1h-2zM1263 123h2v1h-2zM1340 123h2v1h-2zM1570 123h2v1h-2zM1259 124h4v1h-4zM1342 124h2v1h-2zM1568 124h2v1h-2zM1255 125h4v1h-4zM1344 125h2v1h-2zM1566 125h2v1h-2zM1251 126h4v1h-4zM1346 126h2v1h-2zM1565 126h1v1h-1zM905 127h16v1h-16zM1247 127h4v1h-4zM1348 127h2v1h-2zM1563 127h2v1h-2zM899 128h6v1h-6zM921 128h6v1h-6zM1243 128h4v1h-4zM1350 128h2v1h-2zM1561 128h2v1h-2zM895 129h4v1h-4zM927 129h4v1h-4zM1239 129h4v1h-4zM1352 129h1v1h-1zM1560 129h1v1h-1zM891 130h4v1h-4zM931 130h4v1h-4zM1235 130h4v1h-4zM1353 130h2v1h-2zM1558 130h2v1h-2zM887 131h4v1h-4zM935 131h4v1h-4zM1231 131h4v1h-4zM1355 131h2v1h-2zM1556 131h2v1h-2zM885 132h2v1h-2zM939 132h6v1h-6zM1228 132h3v1h-3zM1357 132h1v1h-1zM1554 132h2v1h-2zM883 133h2v1h-2zM945 133h5v1h-5zM1225 133h3v1h-3zM1358 133h2v1h-2zM1552 133h2v1h-2zM881 134h2v1h-2zM950 134h2v1h-2zM1223 134h2v1h-2zM1360 134h2v1h-2zM1550 134h2v1h-2zM880 135h1v1h-1zM952 135h2v1h-2zM1220 135h3v1h-3zM1362 135h2v1h-2zM1548 135h2v1h-2zM878 136h2v1h-2zM954 136h2v1h-2zM1217 136h3v1h-3zM1364 136h2v1h-2zM1546 136h2v1h-2zM877 137h1v1h-1zM956 137h2v1h-2zM1215 137h2v1h-2zM1366 137h2v1h-2zM1544 137h2v1h-2zM875 138h2v1h-2zM958 138h2v1h-2zM1212 138h3v1h-3zM1368 138h1v1h-1zM1542 138h2v1h-2zM873 139h2v1h-2zM960 139h2v1h-2zM1209 139h3v1h-3zM1369 139h2v1h-2zM1541 139h1v1h-1zM872 140h1v1h-1zM962 140h2v1h-2zM1207 140h2v1h-2zM1371 140h2v1h-2zM1539 140h2v1h-2zM870 141h2v1h-2zM964 141h3v1h-3zM1204 141h3v1h-3zM1373 141h1v1h-1zM1538 141h1v1h-1zM869 142h1v1h-1zM967 142h2v1h-2zM1201 142h3v1h-3zM1374 142h2v1h-2zM1537 142h1v1h-1zM867 143h2v1h-2zM969 143h3v1h-3zM1199 143h2v1h-2zM1376 143h1v1h-1zM1535 143h2v1h-2zM865 144h2v1h-2zM972 144h3v1h-3zM1195 144h4v1h-4zM1377 144h2v1h-2zM1534 144h1v1h-1zM864 145h1v1h-1zM975 145h2v1h-2zM1191 145h4v1h-4zM1379 145h2v1h-2zM1533 145h1v1h-1zM862 146h2v1h-2zM977 146h3v1h-3zM1188 146h3v1h-3zM1381 146h1v1h-1zM1531 146h2v1h-2zM861 147h1v1h-1zM980 147h3v1h-3zM1185 147h3v1h-3zM1382 147h1v1h-1zM1530 147h1v1h-1zM859 148h2v1h-2zM983 148h2v1h-2zM1183 148h2v1h-2zM1383 148h2v1h-2zM1529 148h1v1h-1zM858 149h1v1h-1zM985 149h3v1h-3zM1180 149h3v1h-3zM1385 149h1v1h-1zM1527 149h2v1h-2zM857 150h1v1h-1zM988 150h3v1h-3zM1177 150h3v1h-3zM1386 150h1v1h-1zM1526 150h1v1h-1zM855 151h2v1h-2zM991 151h2v1h-2zM1175 151h2v1h-2zM1387 151h2v1h-2zM1525 151h1v1h-1zM854 152h1v1h-1zM993 152h3v1h-3zM1172 152h3v1h-3zM1389 152h1v1h-1zM1524 152h1v1h-1zM853 153h1v1h-1zM996 153h5v1h-5zM1169 153h3v1h-3zM1390 153h2v1h-2zM1523 153h1v1h-1zM851 154h2v1h-2zM1001 154h5v1h-5zM1167 154h2v1h-2zM1392 154h2v1h-2zM1521 154h2v1h-2zM850 155h1v1h-1zM1006 155h2v1h-2zM1164 155h3v1h-3zM1394 155h2v1h-2zM1520 155h1v1h-1zM849 156h1v1h-1zM1008 156h1v1h-1zM1162 156h2v1h-2zM1396 156h3v1h-3zM1519 156h1v1h-1zM847 157h2v1h-2zM1009 157h2v1h-2zM1160 157h2v1h-2zM1399 157h2v1h-2zM1518 157h1v1h-1zM846 158h1v1h-1zM1011 158h2v1h-2zM1158 158h2v1h-2zM1401 158h3v1h-3zM1517 158h1v1h-1zM845 159h1v1h-1zM1013 159h1v1h-1zM1156 159h2v1h-2zM1404 159h3v1h-3zM1515 159h2v1h-2zM843 160h2v1h-2zM1014 160h2v1h-2zM1154 160h2v1h-2zM1407 160h2v1h-2zM1513 160h2v1h-2zM841 161h2v1h-2zM1016 161h2v1h-2zM1152 161h2v1h-2zM1409 161h3v1h-3zM1512 161h1v1h-1zM840 162h1v1h-1zM1018 162h2v1h-2zM1150 162h2v1h-2zM1412 162h3v1h-3zM1510 162h2v1h-2zM838 163h2v1h-2zM1020 163h3v1h-3zM1148 163h2v1h-2zM1415 163h4v1h-4zM1509 163h1v1h-1zM836 164h2v1h-2zM1023 164h2v1h-2zM1145 164h3v1h-3zM1419 164h3v1h-3zM1507 164h2v1h-2zM834 165h2v1h-2zM1025 165h3v1h-3zM1143 165h2v1h-2zM1422 165h2v1h-2zM1505 165h2v1h-2zM832 166h2v1h-2zM1028 166h2v1h-2zM1140 166h3v1h-3zM1424 166h2v1h-2zM1504 166h1v1h-1zM830 167h2v1h-2zM1030 167h2v1h-2zM1138 167h2v1h-2zM1426 167h2v1h-2zM1502 167h2v1h-2zM829 168h1v1h-1zM1032 168h2v1h-2zM1136 168h2v1h-2zM1428 168h3v1h-3zM1500 168h2v1h-2zM827 169h2v1h-2zM1034 169h2v1h-2zM1134 169h2v1h-2zM1431 169h2v1h-2zM1497 169h3v1h-3zM826 170h1v1h-1zM1036 170h3v1h-3zM1132 170h2v1h-2zM1433 170h3v1h-3zM1495 170h2v1h-2zM825 171h1v1h-1zM1039 171h2v1h-2zM1129 171h3v1h-3zM1436 171h3v1h-3zM1492 171h3v1h-3zM823 172h2v1h-2zM1041 172h3v1h-3zM1127 172h2v1h-2zM1439 172h2v1h-2zM1489 172h3v1h-3zM822 173h1v1h-1zM1044 173h3v1h-3zM1123 173h4v1h-4zM1441 173h3v1h-3zM1487 173h2v1h-2zM821 174h1v1h-1zM1047 174h2v1h-2zM1119 174h4v1h-4zM1444 174h3v1h-3zM1484 174h3v1h-3zM819 175h2v1h-2zM1049 175h3v1h-3zM1115 175h4v1h-4zM1447 175h2v1h-2zM1481 175h3v1h-3zM817 176h2v1h-2zM1052 176h3v1h-3zM1111 176h4v1h-4zM1449 176h3v1h-3zM1479 176h2v1h-2zM816 177h1v1h-1zM1055 177h4v1h-4zM1081 177h30v1h-30zM1452 177h3v1h-3zM1476 177h3v1h-3zM814 178h2v1h-2zM1059 178h22v1h-22zM1455 178h2v1h-2zM1473 178h3v1h-3zM811 179h3v1h-3zM1457 179h3v1h-3zM1471 179h2v1h-2zM807 180h4v1h-4zM1460 180h11v1h-11zM804 181h3v1h-3zM802 182h2v1h-2zM800 183h2v1h-2zM798 184h2v1h-2zM796 185h2v1h-2zM537 186h6v1h-6zM794 186h2v1h-2zM523 187h14v1h-14zM543 187h4v1h-4zM792 187h2v1h-2zM519 188h4v1h-4zM547 188h4v1h-4zM790 188h2v1h-2zM513 189h6v1h-6zM551 189h2v1h-2zM788 189h2v1h-2zM507 190h6v1h-6zM553 190h3v1h-3zM786 190h2v1h-2zM503 191h4v1h-4zM556 191h3v1h-3zM784 191h2v1h-2zM497 192h6v1h-6zM559 192h4v1h-4zM782 192h2v1h-2zM481 193h16v1h-16zM563 193h4v1h-4zM780 193h2v1h-2zM473 194h8v1h-8zM567 194h2v1h-2zM777 194h3v1h-3zM467 195h6v1h-6zM569 195h3v1h-3zM775 195h2v1h-2zM463 196h4v1h-4zM572 196h2v1h-2zM772 196h3v1h-3zM460 197h3v1h-3zM574 197h2v1h-2zM770 197h2v1h-2zM457 198h3v1h-3zM576 198h2v1h-2zM768 198h2v1h-2zM455 199h2v1h-2zM578 199h2v1h-2zM766 199h2v1h-2zM451 200h4v1h-4zM580 200h2v1h-2zM764 200h2v1h-2zM447 201h4v1h-4zM582 201h2v1h-2zM762 201h2v1h-2zM444 202h3v1h-3zM584 202h2v1h-2zM760 202h2v1h-2zM441 203h3v1h-3zM586 203h2v1h-2zM758 203h2v1h-2zM439 204h2v1h-2zM588 204h3v1h-3zM756 204h2v1h-2zM436 205h3v1h-3zM591 205h2v1h-2zM754 205h2v1h-2zM434 206h2v1h-2zM593 206h3v1h-3zM752 206h2v1h-2zM432 207h2v1h-2zM596 207h3v1h-3zM750 207h2v1h-2zM430 208h2v1h-2zM599 208h2v1h-2zM749 208h1v1h-1zM428 209h2v1h-2zM601 209h3v1h-3zM747 209h2v1h-2zM425 210h3v1h-3zM604 210h3v1h-3zM745 210h2v1h-2zM423 211h2v1h-2zM607 211h2v1h-2zM744 211h1v1h-1zM421 212h2v1h-2zM609 212h3v1h-3zM742 212h2v1h-2zM420 213h1v1h-1zM612 213h3v1h-3zM740 213h2v1h-2zM419 214h1v1h-1zM615 214h2v1h-2zM738 214h2v1h-2zM417 215h2v1h-2zM617 215h3v1h-3zM736 215h2v1h-2zM416 216h1v1h-1zM620 216h2v1h-2zM734 216h2v1h-2zM415 217h1v1h-1zM622 217h2v1h-2zM733 217h1v1h-1zM414 218h1v1h-1zM624 218h2v1h-2zM731 218h2v1h-2zM412 219h2v1h-2zM626 219h2v1h-2zM729 219h2v1h-2zM410 220h2v1h-2zM628 220h3v1h-3zM728 220h1v1h-1zM408 221h2v1h-2zM631 221h2v1h-2zM726 221h2v1h-2zM406 222h2v1h-2zM633 222h3v1h-3zM724 222h2v1h-2zM404 223h2v1h-2zM636 223h3v1h-3zM722 223h2v1h-2zM401 224h3v1h-3zM639 224h2v1h-2zM720 224h2v1h-2zM399 225h2v1h-2zM641 225h3v1h-3zM718 225h2v1h-2zM395 226h4v1h-4zM644 226h3v1h-3zM716 226h2v1h-2zM391 227h4v1h-4zM647 227h2v1h-2zM714 227h2v1h-2zM355 228h6v1h-6zM385 228h6v1h-6zM649 228h3v1h-3zM712 228h2v1h-2zM351 229h4v1h-4zM361 229h8v1h-8zM377 229h8v1h-8zM652 229h5v1h-5zM710 229h2v1h-2zM337 230h14v1h-14zM369 230h8v1h-8zM657 230h6v1h-6zM708 230h2v1h-2zM332 231h5v1h-5zM663 231h4v1h-4zM706 231h2v1h-2zM329 232h3v1h-3zM667 232h4v1h-4zM704 232h2v1h-2zM327 233h2v1h-2zM671 233h2v1h-2zM702 233h2v1h-2zM324 234h3v1h-3zM673 234h3v1h-3zM697 234h5v1h-5zM322 235h2v1h-2zM676 235h21v1h-21zM320 236h2v1h-2zM318 237h2v1h-2zM317 238h1v1h-1zM315 239h2v1h-2zM314 240h1v1h-1zM313 241h1v1h-1zM311 242h2v1h-2zM310 243h1v1h-1zM309 244h1v1h-1zM308 245h1v1h-1zM307 246h1v1h-1zM305 247h2v1h-2zM304 248h1v1h-1zM303 249h1v1h-1zM302 250h1v1h-1zM301 251h1v1h-1zM300 252h1v1h-1zM299 253h1v1h-1zM297 254h2v1h-2zM296 255h1v1h-1zM295 256h1v1h-1zM294 257h1v1h-1zM293 258h1v1h-1zM291 259h2v1h-2zM289 260h2v1h-2zM288 261h1v1h-1zM286 262h2v1h-2zM285 263h1v1h-1zM283 264h2v1h-2zM281 265h2v1h-2zM280 266h1v1h-1zM278 267h2v1h-2zM277 268h1v1h-1zM276 269h1v1h-1zM275 270h1v1h-1zM273 271h2v1h-2zM272 272h1v1h-1zM271 273h1v1h-1zM270 274h1v1h-1zM267 275h3v1h-3zM263 276h4v1h-4zM259 277h4v1h-4zM255 278h4v1h-4zM249 279h6v1h-6zM244 280h5v1h-5zM242 281h2v1h-2zM240 282h2v1h-2zM238 283h2v1h-2zM237 284h1v1h-1zM235 285h2v1h-2zM233 286h2v1h-2zM232 287h1v1h-1zM230 288h2v1h-2zM229 289h1v1h-1zM227 290h2v1h-2zM225 291h2v1h-2zM224 292h1v1h-1zM222 293h2v1h-2zM221 294h1v1h-1zM219 295h2v1h-2zM218 296h1v1h-1zM217 297h1v1h-1zM215 298h2v1h-2zM214 299h1v1h-1zM213 300h1v1h-1zM212 301h1v1h-1zM211 302h1v1h-1zM210 303h1v1h-1zM209 304h1v1h-1zM208 305h1v1h-1zM207 306h1v1h-1zM206 307h1v1h-1zM205 308h1v1h-1zM204 309h1v1h-1zM203 310h1v1h-1zM201 311h2v1h-2zM200 312h1v1h-1zM199 313h1v1h-1zM198 314h1v1h-1zM197 315h1v1h-1zM196 316h1v1h-1zM195 317h1v1h-1zM194 318h1v1h-1zM193 319h1v1h-1zM192 320h1v1h-1zM191 321h1v1h-1zM190 322h1v1h-1zM189 323h1v1h-1zM188 324h1v1h-1zM187 325h1v1h-1zM186 326h1v1h-1zM185 327h1v1h-1zM185 328h1v1h-1zM184 329h1v1h-1zM183 330h1v1h-1zM182 331h1v1h-1zM181 332h1v1h-1zM180 333h1v1h-1zM180 334h1v1h-1zM179 335h1v1h-1zM178 336h1v1h-1zM177 337h1v1h-1zM177 338h1v1h-1zM176 339h1v1h-1zM175 340h1v1h-1zM174 341h1v1h-1zM174 342h1v1h-1zM173 343h1v1h-1zM172 344h1v1h-1zM172 345h1v1h-1zM171 346h1v1h-1zM170 347h1v1h-1zM169 348h1v1h-1zM169 349h1v1h-1zM168 350h1v1h-1zM167 351h1v1h-1zM166 352h1v1h-1zM166 353h1v1h-1zM165 354h1v1h-1zM164 355h1v1h-1zM164 356h1v1h-1zM163 357h1v1h-1zM162 358h1v1h-1zM161 359h1v1h-1zM161 360h1v1h-1zM160 361h1v1h-1zM159 362h1v1h-1zM158 363h1v1h-1zM158 364h1v1h-1zM157 365h1v1h-1zM156 366h1v1h-1zM156 367h1v1h-1zM155 368h1v1h-1zM154 369h1v1h-1zM153 370h1v1h-1zM153 371h1v1h-1zM152 372h1v1h-1zM151 373h1v1h-1zM150 374h1v1h-1zM150 375h1v1h-1zM149 376h1v1h-1zM148 377h1v1h-1zM147 378h1v1h-1zM147 379h1v1h-1zM146 380h1v1h-1zM145 381h1v1h-1zM144 382h1v1h-1zM143 383h1v1h-1zM143 384h1v1h-1zM142 385h1v1h-1zM141 386h1v1h-1zM139 387h2v1h-2zM137 388h2v1h-2zM136 389h1v1h-1zM134 390h2v1h-2zM133 391h1v1h-1zM131 392h2v1h-2zM130 393h1v1h-1zM129 394h1v1h-1zM127 395h2v1h-2zM126 396h1v1h-1zM125 397h1v1h-1zM123 398h2v1h-2zM121 399h2v1h-2zM120 400h1v1h-1zM118 401h2v1h-2zM117 402h1v1h-1zM116 403h1v1h-1zM115 404h1v1h-1zM113 405h2v1h-2zM112 406h1v1h-1zM111 407h1v1h-1zM110 408h1v1h-1zM109 409h1v1h-1zM108 410h1v1h-1zM107 411h1v1h-1zM106 412h1v1h-1zM105 413h1v1h-1zM104 414h1v1h-1zM103 415h1v1h-1zM102 416h1v1h-1zM101 417h1v1h-1zM100 418h1v1h-1zM100 419h1v1h-1zM99 420h1v1h-1zM98 421h1v1h-1zM97 422h1v1h-1zM97 423h1v1h-1zM96 424h1v1h-1zM95 425h1v1h-1zM94 426h1v1h-1zM94 427h1v1h-1zM93 428h1v1h-1zM92 429h1v1h-1zM91 430h1v1h-1zM91 431h1v1h-1zM90 432h1v1h-1zM89 433h1v1h-1zM88 434h1v1h-1zM87 435h1v1h-1zM87 436h1v1h-1zM86 437h1v1h-1zM85 438h1v1h-1zM84 439h1v1h-1zM83 440h1v1h-1zM83 441h1v1h-1zM82 442h1v1h-1zM81 443h1v1h-1zM80 444h1v1h-1zM79 445h1v1h-1zM79 446h1v1h-1zM78 447h1v1h-1zM77 448h1v1h-1zM76 449h1v1h-1zM75 450h1v1h-1zM73 451h2v1h-2zM72 452h1v1h-1zM71 453h1v1h-1zM70 454h1v1h-1zM69 455h1v1h-1zM68 456h1v1h-1zM67 457h1v1h-1zM65 458h2v1h-2zM64 459h1v1h-1zM63 460h1v1h-1zM62 461h1v1h-1zM61 462h1v1h-1zM59 463h2v1h-2zM58 464h1v1h-1zM5 465h1v1h-1zM57 465h1v1h-1zM6 466h2v1h-2zM55 466h2v1h-2zM8 467h1v1h-1zM54 467h1v1h-1zM9 468h2v1h-2zM52 468h2v1h-2zM11 469h2v1h-2zM50 469h2v1h-2zM13 470h1v1h-1zM48 470h2v1h-2zM14 471h2v1h-2zM46 471h2v1h-2zM16 472h1v1h-1zM43 472h3v1h-3zM17 473h2v1h-2zM39 473h4v1h-4zM19 474h2v1h-2zM33 474h6v1h-6zM21 475h12v1h-12z" fill="#ffa500" shape-rendering="crispEdges"/>
<rect x="5" y="34" width="1674" height="2" fill="#ff0000"/>
<rect x="5" y="144" width="1674" height="2" fill="#32cd32"/>
<rect x="5" y="271" width="1674" height="2" fill="#4169e1"/>
<rect x="5" y="359" width="1674" height="2" fill="#4169e1"/>
<path d="M8,39 L15,39 L11.5,43 Z" fill="#000"/>
<text x="20.2" y="44" font-size="10" fill="#000" stroke="#000" stroke-width="0.25" textLength="211.4" lengthAdjust="spacingAndGlyphs" xml:space="preserve">SP500-,H4  2945.250 2949.000 2942.750 2948.000</text>
<text x="1322" y="329" font-size="34" fill="#ff1400" font-family="'Liberation Sans', 'Noto Sans CJK SC', sans-serif" textLength="237" lengthAdjust="spacingAndGlyphs">多空转折点2875</text>
<rect x="4" y="32" width="1676" height="1" fill="#000"/>
<rect x="4" y="531" width="1676" height="1" fill="#000"/>
<rect x="4" y="32" width="1" height="500" fill="#000"/>
<rect x="1679" y="32" width="1" height="500" fill="#000"/>
<rect x="4" y="533" width="1676" height="1" fill="#000"/>
<rect x="4" y="656" width="1676" height="1" fill="#000"/>
<rect x="4" y="533" width="1" height="124" fill="#000"/>
<rect x="1679" y="533" width="1" height="124" fill="#000"/>
<rect x="4" y="658" width="1676" height="1" fill="#000"/>
<rect x="4" y="761" width="1676" height="1" fill="#000"/>
<rect x="4" y="658" width="1" height="104" fill="#000"/>
<rect x="1679" y="658" width="1" height="104" fill="#000"/>
<rect x="1680" y="66" width="2" height="1" fill="#000"/>
<text x="1685" y="70" font-size="10" fill="#000" stroke="#000" stroke-width="0.25" textLength="37.8" lengthAdjust="spacingAndGlyphs">2964.420</text>
<rect x="1680" y="99" width="2" height="1" fill="#000"/>
<text x="1685" y="103" font-size="10" fill="#000" stroke="#000" stroke-width="0.25" textLength="37.8" lengthAdjust="spacingAndGlyphs">2927.130</text>
<rect x="1680" y="132" width="2" height="1" fill="#000"/>
<text x="1685" y="136" font-size="10" fill="#000" stroke="#000" stroke-width="0.25" textLength="37.8" lengthAdjust="spacingAndGlyphs">2889.840</text>
<rect x="1680" y="165" width="2" height="1" fill="#000"/>
<text x="1685" y="169" font-size="10" fill="#000" stroke="#000" stroke-width="0.25" textLength="37.8" lengthAdjust="spacingAndGlyphs">2852.550</text>
<rect x="1680" y="198" width="2" height="1" fill="#000"/>
<text x="1685" y="202" font-size="10" fill="#000" stroke="#000" stroke-width="0.25" textLength="37.8" lengthAdjust="spacingAndGlyphs">2814.130</text>
<rect x="1680" y="231" width="2" height="1" fill="#000"/>
<text x="1685" y="235" font-size="10" fill="#000" stroke="#000" stroke-width="0.25" textLength="37.8" lengthAdjust="spacingAndGlyphs">2776.840</text>
<rect x="1680" y="264" width="2" height="1" fill="#000"/>
<text x="1685" y="268" font-size="10" fill="#000" stroke="#000" stroke-width="0.25" textLength="37.8" lengthAdjust="spacingAndGlyphs">2739.550</text>
<rect x="1680" y="298" width="2" height="1" fill="#000"/>
<text x="1685" y="302" font-size="10" fill="#000" stroke="#000" stroke-width="0.25" textLength="37.8" lengthAdjust="spacingAndGlyphs">2701.130</text>
<rect x="1680" y="331" width="2" height="1" fill="#000"/>
<text x="1685" y="335" font-size="10" fill="#000" stroke="#000" stroke-width="0.25" textLength="37.8" lengthAdjust="spacingAndGlyphs">2663.840</text>
<rect x="1680" y="363" width="2" height="1" fill="#000"/>
<text x="1685" y="367" font-size="10" fill="#000" stroke="#000" stroke-width="0.25" textLength="37.8" lengthAdjust="spacingAndGlyphs">2626.550</text>
<rect x="1680" y="396" width="2" height="1" fill="#000"/>
<text x="1685" y="400" font-size="10" fill="#000" stroke="#000" stroke-width="0.25" textLength="37.8" lengthAdjust="spacingAndGlyphs">2589.260</text>
<rect x="1680" y="430" width="2" height="1" fill="#000"/>
<text x="1685" y="434" font-size="10" fill="#000" stroke="#000" stroke-width="0.25" textLength="37.8" lengthAdjust="spacingAndGlyphs">2550.840</text>
<rect x="1680" y="463" width="2" height="1" fill="#000"/>
<text x="1685" y="467" font-size="10" fill="#000" stroke="#000" stroke-width="0.25" textLength="37.8" lengthAdjust="spacingAndGlyphs">2513.550</text>
<rect x="1680" y="496" width="2" height="1" fill="#000"/>
<text x="1685" y="500" font-size="10" fill="#000" stroke="#000" stroke-width="0.25" textLength="37.8" lengthAdjust="spacingAndGlyphs">2476.260</text>
<rect x="1680" y="528" width="2" height="1" fill="#000"/>
<text x="1685" y="532" font-size="10" fill="#000" stroke="#000" stroke-width="0.25" textLength="37.8" lengthAdjust="spacingAndGlyphs">2438.970</text>
<rect x="1681" y="30" width="44" height="10" fill="#ff0000"/>
<text x="1685" y="38" font-size="10" fill="#fff" stroke="#fff" stroke-width="0.25" textLength="37.8" lengthAdjust="spacingAndGlyphs">3000.000</text>
<rect x="1681" y="76" width="44" height="11" fill="#000000"/>
<text x="1685" y="85" font-size="10" fill="#fff" stroke="#fff" stroke-width="0.25" textLength="37.8" lengthAdjust="spacingAndGlyphs">2948.000</text>
<rect x="1681" y="139" width="44" height="11" fill="#32cd32"/>
<text x="1685" y="148" font-size="10" fill="#fff" stroke="#fff" stroke-width="0.25" textLength="37.8" lengthAdjust="spacingAndGlyphs">2875.000</text>
<rect x="1681" y="266" width="44" height="11" fill="#4169e1"/>
<text x="1685" y="275" font-size="10" fill="#fff" stroke="#fff" stroke-width="0.25" textLength="37.8" lengthAdjust="spacingAndGlyphs">2730.000</text>
<rect x="1681" y="354" width="44" height="11" fill="#4169e1"/>
<text x="1685" y="363" font-size="10" fill="#fff" stroke="#fff" stroke-width="0.25" textLength="37.8" lengthAdjust="spacingAndGlyphs">2630.000</text>
<rect x="5" y="615" width="1" height="9" fill="#c0c0c0"/>
<rect x="13" y="615" width="1" height="12" fill="#c0c0c0"/>
<rect x="21" y="615" width="1" height="9" fill="#c0c0c0"/>
<rect x="29" y="614" width="1" height="2" fill="#c0c0c0"/>
<rect x="37" y="609" width="1" height="7" fill="#c0c0c0"/>
<rect x="45" y="603" width="1" height="13" fill="#c0c0c0"/>
<rect x="53" y="595" width="1" height="21" fill="#c0c0c0"/>
<rect x="61" y="585" width="1" height="31" fill="#c0c0c0"/>
<rect x="69" y="576" width="1" height="40" fill="#c0c0c0"/>
<rect x="77" y="573" width="1" height="43" fill="#c0c0c0"/>
<rect x="85" y="562" width="1" height="54" fill="#c0c0c0"/>
<rect x="93" y="553" width="1" height="63" fill="#c0c0c0"/>
<rect x="101" y="547" width="1" height="69" fill="#c0c0c0"/>
<rect x="109" y="551" width="1" height="65" fill="#c0c0c0"/>
<rect x="117" y="554" width="1" height="62" fill="#c0c0c0"/>
<rect x="125" y="558" width="1" height="58" fill="#c0c0c0"/>
<rect x="133" y="560" width="1" height="56" fill="#c0c0c0"/>
<rect x="141" y="562" width="1" height="54" fill="#c0c0c0"/>
<rect x="149" y="559" width="1" height="57" fill="#c0c0c0"/>
<rect x="157" y="555" width="1" height="61" fill="#c0c0c0"/>
<rect x="165" y="550" width="1" height="66" fill="#c0c0c0"/>
<rect x="173" y="549" width="1" height="67" fill="#c0c0c0"/>
<rect x="181" y="545" width="1" height="71" fill="#c0c0c0"/>
<rect x="189" y="549" width="1" height="67" fill="#c0c0c0"/>
<rect x="197" y="544" width="1" height="72" fill="#c0c0c0"/>
<rect x="205" y="542" width="1" height="74" fill="#c0c0c0"/>
<rect x="213" y="541" width="1" height="75" fill="#c0c0c0"/>
<rect x="221" y="547" width="1" height="69" fill="#c0c0c0"/>
<rect x="229" y="551" width="1" height="65" fill="#c0c0c0"/>
<rect x="237" y="555" width="1" height="61" fill="#c0c0c0"/>
<rect x="245" y="556" width="1" height="60" fill="#c0c0c0"/>
<rect x="253" y="562" width="1" height="54" fill="#c0c0c0"/>
<rect x="261" y="565" width="1" height="51" fill="#c0c0c0"/>
<rect x="269" y="566" width="1" height="50" fill="#c0c0c0"/>
<rect x="277" y="564" width="1" height="52" fill="#c0c0c0"/>
<rect x="285" y="564" width="1" height="52" fill="#c0c0c0"/>
<rect x="293" y="564" width="1" height="52" fill="#c0c0c0"/>
<rect x="301" y="563" width="1" height="53" fill="#c0c0c0"/>
<rect x="309" y="560" width="1" height="56" fill="#c0c0c0"/>
<rect x="317" y="558" width="1" height="58" fill="#c0c0c0"/>
<rect x="325" y="558" width="1" height="58" fill="#c0c0c0"/>
<rect x="333" y="562" width="1" height="54" fill="#c0c0c0"/>
<rect x="341" y="567" width="1" height="49" fill="#c0c0c0"/>
<rect x="349" y="574" width="1" height="42" fill="#c0c0c0"/>
<rect x="357" y="579" width="1" height="37" fill="#c0c0c0"/>
<rect x="365" y="586" width="1" height="30" fill="#c0c0c0"/>
<rect x="373" y="590" width="1" height="26" fill="#c0c0c0"/>
<rect x="381" y="590" width="1" height="26" fill="#c0c0c0"/>
<rect x="389" y="592" width="1" height="24" fill="#c0c0c0"/>
<rect x="397" y="593" width="1" height="23" fill="#c0c0c0"/>
<rect x="405" y="594" width="1" height="22" fill="#c0c0c0"/>
<rect x="413" y="587" width="1" height="29" fill="#c0c0c0"/>
<rect x="421" y="580" width="1" height="36" fill="#c0c0c0"/>
<rect x="429" y="577" width="1" height="39" fill="#c0c0c0"/>
<rect x="437" y="574" width="1" height="42" fill="#c0c0c0"/>
<rect x="445" y="576" width="1" height="40" fill="#c0c0c0"/>
<rect x="453" y="575" width="1" height="41" fill="#c0c0c0"/>
<rect x="461" y="574" width="1" height="42" fill="#c0c0c0"/>
<rect x="469" y="576" width="1" height="40" fill="#c0c0c0"/>
<rect x="477" y="575" width="1" height="41" fill="#c0c0c0"/>
<rect x="485" y="577" width="1" height="39" fill="#c0c0c0"/>
<rect x="493" y="584" width="1" height="32" fill="#c0c0c0"/>
<rect x="501" y="584" width="1" height="32" fill="#c0c0c0"/>
<rect x="509" y="590" width="1" height="26" fill="#c0c0c0"/>
<rect x="517" y="594" width="1" height="22" fill="#c0c0c0"/>
<rect x="525" y="601" width="1" height="15" fill="#c0c0c0"/>
<rect x="533" y="607" width="1" height="9" fill="#c0c0c0"/>
<rect x="541" y="614" width="1" height="2" fill="#c0c0c0"/>
<rect x="549" y="615" width="1" height="7" fill="#c0c0c0"/>
<rect x="557" y="615" width="1" height="15" fill="#c0c0c0"/>
<rect x="565" y="615" width="1" height="19" fill="#c0c0c0"/>
<rect x="573" y="615" width="1" height="21" fill="#c0c0c0"/>
<rect x="581" y="615" width="1" height="22" fill="#c0c0c0"/>
<rect x="589" y="615" width="1" height="21" fill="#c0c0c0"/>
<rect x="597" y="615" width="1" height="19" fill="#c0c0c0"/>
<rect x="605" y="615" width="1" height="17" fill="#c0c0c0"/>
<rect x="613" y="615" width="1" height="13" fill="#c0c0c0"/>
<rect x="621" y="615" width="1" height="13" fill="#c0c0c0"/>
<rect x="629" y="615" width="1" height="12" fill="#c0c0c0"/>
<rect x="637" y="615" width="1" height="9" fill="#c0c0c0"/>
<rect x="645" y="615" width="1" height="4" fill="#c0c0c0"/>
<rect x="653" y="615" width="1" height="3" fill="#c0c0c0"/>
<rect x="661" y="615" width="1" height="5" fill="#c0c0c0"/>
<rect x="669" y="615" width="1" height="7" fill="#c0c0c0"/>
<rect x="677" y="615" width="1" height="6" fill="#c0c0c0"/>
<rect x="685" y="615" width="1" height="4" fill="#c0c0c0"/>
<rect x="693" y="615" width="1" height="3" fill="#c0c0c0"/>
<rect x="701" y="614" width="1" height="2" fill="#c0c0c0"/>
<rect x="709" y="610" width="1" height="6" fill="#c0c0c0"/>
<rect x="717" y="608" width="1" height="8" fill="#c0c0c0"/>
<rect x="725" y="603" width="1" height="13" fill="#c0c0c0"/>
<rect x="733" y="599" width="1" height="17" fill="#c0c0c0"/>
<rect x="741" y="596" width="1" height="20" fill="#c0c0c0"/>
<rect x="749" y="592" width="1" height="24" fill="#c0c0c0"/>
<rect x="757" y="589" width="1" height="27" fill="#c0c0c0"/>
<rect x="765" y="588" width="1" height="28" fill="#c0c0c0"/>
<rect x="773" y="588" width="1" height="28" fill="#c0c0c0"/>
<rect x="781" y="586" width="1" height="30" fill="#c0c0c0"/>
<rect x="789" y="581" width="1" height="35" fill="#c0c0c0"/>
<rect x="797" y="583" width="1" height="33" fill="#c0c0c0"/>
<rect x="805" y="587" width="1" height="29" fill="#c0c0c0"/>
<rect x="813" y="586" width="1" height="30" fill="#c0c0c0"/>
<rect x="821" y="584" width="1" height="32" fill="#c0c0c0"/>
<rect x="829" y="584" width="1" height="32" fill="#c0c0c0"/>
<rect x="837" y="585" width="1" height="31" fill="#c0c0c0"/>
<rect x="845" y="581" width="1" height="35" fill="#c0c0c0"/>
<rect x="853" y="578" width="1" height="38" fill="#c0c0c0"/>
<rect x="861" y="574" width="1" height="42" fill="#c0c0c0"/>
<rect x="869" y="571" width="1" height="45" fill="#c0c0c0"/>
<rect x="877" y="570" width="1" height="46" fill="#c0c0c0"/>
<rect x="885" y="573" width="1" height="43" fill="#c0c0c0"/>
<rect x="893" y="578" width="1" height="38" fill="#c0c0c0"/>
<rect x="901" y="582" width="1" height="34" fill="#c0c0c0"/>
<rect x="909" y="588" width="1" height="28" fill="#c0c0c0"/>
<rect x="917" y="595" width="1" height="21" fill="#c0c0c0"/>
<rect x="925" y="603" width="1" height="13" fill="#c0c0c0"/>
<rect x="933" y="609" width="1" height="7" fill="#c0c0c0"/>
<rect x="949" y="615" width="1" height="5" fill="#c0c0c0"/>
<rect x="957" y="615" width="1" height="10" fill="#c0c0c0"/>
<rect x="965" y="615" width="1" height="17" fill="#c0c0c0"/>
<rect x="973" y="615" width="1" height="20" fill="#c0c0c0"/>
<rect x="981" y="615" width="1" height="23" fill="#c0c0c0"/>
<rect x="989" y="615" width="1" height="25" fill="#c0c0c0"/>
<rect x="997" y="615" width="1" height="26" fill="#c0c0c0"/>
<rect x="1005" y="615" width="1" height="23" fill="#c0c0c0"/>
<rect x="1013" y="615" width="1" height="20" fill="#c0c0c0"/>
<rect x="1021" y="615" width="1" height="17" fill="#c0c0c0"/>
<rect x="1029" y="615" width="1" height="13" fill="#c0c0c0"/>
<rect x="1037" y="615" width="1" height="10" fill="#c0c0c0"/>
<rect x="1045" y="615" width="1" height="4" fill="#c0c0c0"/>
<rect x="1053" y="615" width="1" height="2" fill="#c0c0c0"/>
<rect x="1061" y="615" width="1" height="1" fill="#c0c0c0"/>
<rect x="1069" y="614" width="1" height="2" fill="#c0c0c0"/>
<rect x="1077" y="612" width="1" height="4" fill="#c0c0c0"/>
<rect x="1085" y="610" width="1" height="6" fill="#c0c0c0"/>
<rect x="1093" y="611" width="1" height="5" fill="#c0c0c0"/>
<rect x="1101" y="614" width="1" height="2" fill="#c0c0c0"/>
<rect x="1109" y="615" width="1" height="1" fill="#c0c0c0"/>
<rect x="1117" y="615" width="1" height="1" fill="#c0c0c0"/>
<rect x="1125" y="614" width="1" height="2" fill="#c0c0c0"/>
<rect x="1133" y="612" width="1" height="4" fill="#c0c0c0"/>
<rect x="1141" y="609" width="1" height="7" fill="#c0c0c0"/>
<rect x="1149" y="608" width="1" height="8" fill="#c0c0c0"/>
<rect x="1157" y="605" width="1" height="11" fill="#c0c0c0"/>
<rect x="1165" y="601" width="1" height="15" fill="#c0c0c0"/>
<rect x="1173" y="599" width="1" height="17" fill="#c0c0c0"/>
<rect x="1181" y="597" width="1" height="19" fill="#c0c0c0"/>
<rect x="1189" y="596" width="1" height="20" fill="#c0c0c0"/>
<rect x="1197" y="593" width="1" height="23" fill="#c0c0c0"/>
<rect x="1205" y="591" width="1" height="25" fill="#c0c0c0"/>
<rect x="1213" y="589" width="1" height="27" fill="#c0c0c0"/>
<rect x="1221" y="587" width="1" height="29" fill="#c0c0c0"/>
<rect x="1229" y="586" width="1" height="30" fill="#c0c0c0"/>
<rect x="1237" y="591" width="1" height="25" fill="#c0c0c0"/>
<rect x="1245" y="592" width="1" height="24" fill="#c0c0c0"/>
<rect x="1253" y="593" width="1" height="23" fill="#c0c0c0"/>
<rect x="1261" y="594" width="1" height="22" fill="#c0c0c0"/>
<rect x="1269" y="597" width="1" height="19" fill="#c0c0c0"/>
<rect x="1277" y="598" width="1" height="18" fill="#c0c0c0"/>
<rect x="1285" y="597" width="1" height="19" fill="#c0c0c0"/>
<rect x="1293" y="598" width="1" height="18" fill="#c0c0c0"/>
<rect x="1301" y="605" width="1" height="11" fill="#c0c0c0"/>
<rect x="1309" y="615" width="1" height="1" fill="#c0c0c0"/>
<rect x="1317" y="615" width="1" height="4" fill="#c0c0c0"/>
<rect x="1325" y="615" width="1" height="8" fill="#c0c0c0"/>
<rect x="1333" y="615" width="1" height="8" fill="#c0c0c0"/>
<rect x="1341" y="615" width="1" height="15" fill="#c0c0c0"/>
<rect x="1349" y="615" width="1" height="20" fill="#c0c0c0"/>
<rect x="1357" y="615" width="1" height="23" fill="#c0c0c0"/>
<rect x="1365" y="615" width="1" height="27" fill="#c0c0c0"/>
<rect x="1373" y="615" width="1" height="29" fill="#c0c0c0"/>
<rect x="1381" y="615" width="1" height="32" fill="#c0c0c0"/>
<rect x="1389" y="615" width="1" height="35" fill="#c0c0c0"/>
<rect x="1397" y="615" width="1" height="31" fill="#c0c0c0"/>
<rect x="1405" y="615" width="1" height="26" fill="#c0c0c0"/>
<rect x="1413" y="615" width="1" height="23" fill="#c0c0c0"/>
<rect x="1421" y="615" width="1" height="18" fill="#c0c0c0"/>
<rect x="1429" y="615" width="1" height="19" fill="#c0c0c0"/>
<rect x="1437" y="615" width="1" height="19" fill="#c0c0c0"/>
<rect x="1445" y="615" width="1" height="16" fill="#c0c0c0"/>
<rect x="1453" y="615" width="1" height="13" fill="#c0c0c0"/>
<rect x="1461" y="615" width="1" height="10" fill="#c0c0c0"/>
<rect x="1469" y="615" width="1" height="5" fill="#c0c0c0"/>
<rect x="1477" y="615" width="1" height="1" fill="#c0c0c0"/>
<rect x="1485" y="610" width="1" height="6" fill="#c0c0c0"/>
<rect x="1493" y="601" width="1" height="15" fill="#c0c0c0"/>
<rect x="1501" y="595" width="1" height="21" fill="#c0c0c0"/>
<rect x="1509" y="590" width="1" height="26" fill="#c0c0c0"/>
<rect x="1517" y="587" width="1" height="29" fill="#c0c0c0"/>
<rect x="1525" y="584" width="1" height="32" fill="#c0c0c0"/>
<rect x="1533" y="583" width="1" height="33" fill="#c0c0c0"/>
<rect x="1541" y="581" width="1" height="35" fill="#c0c0c0"/>
<rect x="1549" y="585" width="1" height="31" fill="#c0c0c0"/>
<rect x="1557" y="587" width="1" height="29" fill="#c0c0c0"/>
<rect x="1565" y="587" width="1" height="29" fill="#c0c0c0"/>
<rect x="1573" y="590" width="1" height="26" fill="#c0c0c0"/>
<rect x="1581" y="588" width="1" height="28" fill="#c0c0c0"/>
<rect x="1589" y="585" width="1" height="31" fill="#c0c0c0"/>
<rect x="1597" y="585" width="1" height="31" fill="#c0c0c0"/>
<rect x="1605" y="583" width="1" height="33" fill="#c0c0c0"/>
<rect x="1613" y="585" width="1" height="31" fill="#c0c0c0"/>
<rect x="1621" y="587" width="1" height="29" fill="#c0c0c0"/>
<rect x="1629" y="588" width="1" height="28" fill="#c0c0c0"/>
<rect x="1637" y="590" width="1" height="26" fill="#c0c0c0"/>
<rect x="1645" y="593" width="1" height="23" fill="#c0c0c0"/>
<rect x="1653" y="594" width="1" height="22" fill="#c0c0c0"/>
<rect x="1661" y="596" width="1" height="20" fill="#c0c0c0"/>
<path d="M217 546h1v1h-1zM221 546h3v1h-3zM227 546h3v1h-3zM233 546h3v1h-3zM239 546h2v1h-2zM215 547h2v1h-2zM241 547h1v1h-1zM245 547h3v1h-3zM209 548h3v1h-3zM251 548h3v1h-3zM257 549h2v1h-2zM203 550h3v1h-3zM259 550h1v1h-1zM199 551h1v1h-1zM263 551h3v1h-3zM185 552h3v1h-3zM191 552h3v1h-3zM197 552h2v1h-2zM269 552h2v1h-2zM179 553h3v1h-3zM271 553h1v1h-1zM169 554h1v1h-1zM173 554h3v1h-3zM275 554h1v1h-1zM155 555h3v1h-3zM161 555h3v1h-3zM167 555h2v1h-2zM276 555h2v1h-2zM149 556h3v1h-3zM143 557h3v1h-3zM281 557h3v1h-3zM137 558h3v1h-3zM132 559h2v1h-2zM287 559h3v1h-3zM131 560h1v1h-1zM293 560h3v1h-3zM127 561h1v1h-1zM299 561h3v1h-3zM305 561h3v1h-3zM311 561h2v1h-2zM125 562h2v1h-2zM313 562h1v1h-1zM317 562h3v1h-3zM323 562h3v1h-3zM329 562h3v1h-3zM335 562h3v1h-3zM341 562h3v1h-3zM347 563h3v1h-3zM120 564h2v1h-2zM353 564h3v1h-3zM119 565h1v1h-1zM359 565h2v1h-2zM361 566h1v1h-1zM115 567h1v1h-1zM365 567h2v1h-2zM113 568h2v1h-2zM367 568h1v1h-1zM371 569h1v1h-1zM372 570h2v1h-2zM109 571h1v1h-1zM108 572h1v1h-1zM377 572h3v1h-3zM107 573h1v1h-1zM383 574h1v1h-1zM384 575h2v1h-2zM103 576h1v1h-1zM481 576h1v1h-1zM485 576h3v1h-3zM491 576h3v1h-3zM497 576h3v1h-3zM889 576h1v1h-1zM893 576h3v1h-3zM899 576h3v1h-3zM905 576h3v1h-3zM102 577h1v1h-1zM389 577h2v1h-2zM475 577h1v1h-1zM479 577h2v1h-2zM503 577h3v1h-3zM881 577h3v1h-3zM887 577h2v1h-2zM911 577h3v1h-3zM101 578h1v1h-1zM391 578h1v1h-1zM473 578h2v1h-2zM509 578h2v1h-2zM875 578h3v1h-3zM917 578h2v1h-2zM395 579h1v1h-1zM467 579h3v1h-3zM511 579h1v1h-1zM871 579h1v1h-1zM919 579h1v1h-1zM396 580h2v1h-2zM463 580h1v1h-1zM515 580h3v1h-3zM865 580h1v1h-1zM869 580h2v1h-2zM923 580h1v1h-1zM461 581h2v1h-2zM857 581h3v1h-3zM863 581h2v1h-2zM924 581h2v1h-2zM97 582h1v1h-1zM401 582h1v1h-1zM455 582h3v1h-3zM521 582h3v1h-3zM851 582h3v1h-3zM96 583h1v1h-1zM402 583h2v1h-2zM451 583h1v1h-1zM841 583h1v1h-1zM845 583h3v1h-3zM929 583h1v1h-1zM95 584h1v1h-1zM449 584h2v1h-2zM527 584h1v1h-1zM833 584h3v1h-3zM839 584h2v1h-2zM930 584h2v1h-2zM1585 584h1v1h-1zM1589 584h3v1h-3zM1595 584h3v1h-3zM407 585h3v1h-3zM443 585h3v1h-3zM528 585h2v1h-2zM827 585h3v1h-3zM1571 585h3v1h-3zM1577 585h3v1h-3zM1583 585h2v1h-2zM1601 585h3v1h-3zM1607 585h3v1h-3zM1613 585h3v1h-3zM1619 585h3v1h-3zM1625 585h3v1h-3zM1631 585h3v1h-3zM1637 585h3v1h-3zM413 586h3v1h-3zM425 586h3v1h-3zM431 586h3v1h-3zM437 586h3v1h-3zM811 586h1v1h-1zM815 586h3v1h-3zM821 586h3v1h-3zM935 586h1v1h-1zM1561 586h1v1h-1zM1565 586h3v1h-3zM1643 586h3v1h-3zM419 587h3v1h-3zM533 587h1v1h-1zM809 587h2v1h-2zM936 587h2v1h-2zM1559 587h2v1h-2zM1649 587h3v1h-3zM1655 587h3v1h-3zM1661 587h1v1h-1zM91 588h1v1h-1zM534 588h2v1h-2zM803 588h3v1h-3zM1553 588h3v1h-3zM90 589h1v1h-1zM797 589h3v1h-3zM941 589h1v1h-1zM89 590h1v1h-1zM539 590h1v1h-1zM791 590h3v1h-3zM942 590h1v1h-1zM1548 590h2v1h-2zM540 591h2v1h-2zM787 591h1v1h-1zM943 591h1v1h-1zM1235 591h3v1h-3zM1241 591h3v1h-3zM1247 591h3v1h-3zM1253 591h3v1h-3zM1259 591h3v1h-3zM1265 591h3v1h-3zM1271 591h3v1h-3zM1277 591h2v1h-2zM1547 591h1v1h-1zM785 592h2v1h-2zM1229 592h3v1h-3zM1279 592h1v1h-1zM780 593h2v1h-2zM1223 593h3v1h-3zM1283 593h3v1h-3zM1542 593h2v1h-2zM85 594h1v1h-1zM545 594h1v1h-1zM779 594h1v1h-1zM947 594h2v1h-2zM1289 594h3v1h-3zM1541 594h1v1h-1zM83 595h2v1h-2zM546 595h1v1h-1zM949 595h1v1h-1zM1217 595h3v1h-3zM1295 595h3v1h-3zM547 596h1v1h-1zM774 596h2v1h-2zM1301 596h2v1h-2zM1536 596h2v1h-2zM773 597h1v1h-1zM1211 597h3v1h-3zM1303 597h1v1h-1zM1535 597h1v1h-1zM79 598h1v1h-1zM551 598h1v1h-1zM769 598h1v1h-1zM953 598h1v1h-1zM1207 598h1v1h-1zM1307 598h1v1h-1zM78 599h1v1h-1zM552 599h1v1h-1zM767 599h2v1h-2zM954 599h1v1h-1zM1205 599h2v1h-2zM1308 599h2v1h-2zM1530 599h2v1h-2zM77 600h1v1h-1zM553 600h1v1h-1zM763 600h1v1h-1zM955 600h1v1h-1zM1201 600h1v1h-1zM1313 600h2v1h-2zM1529 600h1v1h-1zM761 601h2v1h-2zM1199 601h2v1h-2zM1315 601h1v1h-1zM557 602h1v1h-1zM756 602h2v1h-2zM1195 602h1v1h-1zM1319 602h3v1h-3zM1525 602h1v1h-1zM73 603h1v1h-1zM558 603h1v1h-1zM755 603h1v1h-1zM959 603h2v1h-2zM1193 603h2v1h-2zM1325 603h1v1h-1zM1523 603h2v1h-2zM72 604h1v1h-1zM559 604h1v1h-1zM961 604h1v1h-1zM1187 604h3v1h-3zM1326 604h2v1h-2zM71 605h1v1h-1zM750 605h2v1h-2zM1183 605h1v1h-1zM749 606h1v1h-1zM1181 606h2v1h-2zM1331 606h1v1h-1zM1518 606h2v1h-2zM563 607h2v1h-2zM745 607h1v1h-1zM965 607h1v1h-1zM1175 607h3v1h-3zM1332 607h2v1h-2zM1517 607h1v1h-1zM67 608h1v1h-1zM565 608h1v1h-1zM743 608h2v1h-2zM966 608h1v1h-1zM1171 608h1v1h-1zM65 609h2v1h-2zM967 609h1v1h-1zM1169 609h2v1h-2zM1337 609h1v1h-1zM1513 609h1v1h-1zM737 610h3v1h-3zM1163 610h3v1h-3zM1338 610h2v1h-2zM1512 610h1v1h-1zM569 611h1v1h-1zM1145 611h3v1h-3zM1151 611h3v1h-3zM1157 611h3v1h-3zM1511 611h1v1h-1zM60 612h2v1h-2zM570 612h1v1h-1zM731 612h3v1h-3zM971 612h2v1h-2zM1139 612h3v1h-3zM1343 612h1v1h-1zM59 613h1v1h-1zM571 613h1v1h-1zM727 613h1v1h-1zM973 613h1v1h-1zM1129 613h1v1h-1zM1133 613h3v1h-3zM1344 613h1v1h-1zM1507 613h1v1h-1zM725 614h2v1h-2zM1115 614h3v1h-3zM1121 614h3v1h-3zM1127 614h2v1h-2zM1345 614h1v1h-1zM1506 614h1v1h-1zM54 615h2v1h-2zM719 615h3v1h-3zM1097 615h3v1h-3zM1103 615h3v1h-3zM1109 615h3v1h-3zM1505 615h1v1h-1zM53 616h1v1h-1zM575 616h2v1h-2zM715 616h1v1h-1zM977 616h1v1h-1zM1092 616h2v1h-2zM1349 616h1v1h-1zM49 617h1v1h-1zM577 617h1v1h-1zM713 617h2v1h-2zM978 617h1v1h-1zM1091 617h1v1h-1zM1350 617h2v1h-2zM47 618h2v1h-2zM707 618h3v1h-3zM979 618h1v1h-1zM1087 618h1v1h-1zM1501 618h1v1h-1zM703 619h1v1h-1zM1085 619h2v1h-2zM1499 619h2v1h-2zM41 620h3v1h-3zM581 620h1v1h-1zM697 620h1v1h-1zM701 620h2v1h-2zM983 620h1v1h-1zM1081 620h1v1h-1zM1355 620h2v1h-2zM582 621h2v1h-2zM689 621h3v1h-3zM695 621h2v1h-2zM984 621h1v1h-1zM1079 621h2v1h-2zM1357 621h1v1h-1zM35 622h3v1h-3zM683 622h3v1h-3zM985 622h1v1h-1zM1494 622h2v1h-2zM31 623h1v1h-1zM673 623h1v1h-1zM677 623h3v1h-3zM1074 623h2v1h-2zM1493 623h1v1h-1zM25 624h1v1h-1zM29 624h2v1h-2zM587 624h2v1h-2zM667 624h1v1h-1zM671 624h2v1h-2zM989 624h1v1h-1zM1073 624h1v1h-1zM1361 624h2v1h-2zM5 625h3v1h-3zM17 625h3v1h-3zM23 625h2v1h-2zM589 625h1v1h-1zM665 625h2v1h-2zM990 625h2v1h-2zM1363 625h1v1h-1zM1488 625h2v1h-2zM11 626h3v1h-3zM659 626h3v1h-3zM1067 626h3v1h-3zM1487 626h1v1h-1zM593 627h1v1h-1zM655 627h1v1h-1zM1063 627h1v1h-1zM1367 627h1v1h-1zM594 628h2v1h-2zM653 628h2v1h-2zM995 628h2v1h-2zM1061 628h2v1h-2zM1368 628h1v1h-1zM1481 628h3v1h-3zM647 629h3v1h-3zM997 629h1v1h-1zM1057 629h1v1h-1zM1369 629h1v1h-1zM599 630h3v1h-3zM643 630h1v1h-1zM1055 630h2v1h-2zM1476 630h2v1h-2zM605 631h3v1h-3zM641 631h2v1h-2zM1001 631h3v1h-3zM1051 631h1v1h-1zM1373 631h1v1h-1zM1475 631h1v1h-1zM611 632h3v1h-3zM625 632h1v1h-1zM629 632h3v1h-3zM635 632h3v1h-3zM1049 632h2v1h-2zM1374 632h2v1h-2zM1471 632h1v1h-1zM617 633h3v1h-3zM623 633h2v1h-2zM1007 633h3v1h-3zM1043 633h3v1h-3zM1469 633h2v1h-2zM1013 634h2v1h-2zM1039 634h1v1h-1zM1379 634h1v1h-1zM1463 634h3v1h-3zM1015 635h1v1h-1zM1033 635h1v1h-1zM1037 635h2v1h-2zM1380 635h2v1h-2zM1019 636h3v1h-3zM1025 636h3v1h-3zM1031 636h2v1h-2zM1457 636h3v1h-3zM1385 637h3v1h-3zM1451 638h3v1h-3zM1391 639h3v1h-3zM1447 639h1v1h-1zM1397 640h2v1h-2zM1445 640h2v1h-2zM1399 641h1v1h-1zM1439 641h3v1h-3zM1403 642h3v1h-3zM1417 642h1v1h-1zM1421 642h3v1h-3zM1427 642h3v1h-3zM1433 642h3v1h-3zM1409 643h3v1h-3zM1415 643h2v1h-2z" fill="#ff0000" shape-rendering="crispEdges"/>
<text x="9.5" y="546.8" font-size="10" fill="#000" stroke="#000" stroke-width="0.25" textLength="137.3" lengthAdjust="spacingAndGlyphs">MACD(12,26,9) 14.8780 19.6950</text>
<rect x="1680" y="535" width="2" height="1" fill="#000"/>
<rect x="1680" y="615" width="2" height="1" fill="#000"/>
<rect x="1680" y="655" width="2" height="1" fill="#000"/>
<text x="1683" y="545" font-size="10" fill="#000" stroke="#000" stroke-width="0.25" textLength="32.4" lengthAdjust="spacingAndGlyphs">58.1136</text>
<text x="1683.4" y="619" font-size="10" fill="#000" stroke="#000" stroke-width="0.25" textLength="17.3" lengthAdjust="spacingAndGlyphs">0.00</text>
<text x="1683" y="653" font-size="10" fill="#000" stroke="#000" stroke-width="0.25" textLength="35.5" lengthAdjust="spacingAndGlyphs">-29.0017</text>
<g shape-rendering="crispEdges">
<line x1="5" y1="690.5" x2="1679" y2="690.5" stroke="#b4b4b4" stroke-dasharray="3 3" stroke-dashoffset="-1"/>
<line x1="5" y1="730.5" x2="1679" y2="730.5" stroke="#b4b4b4" stroke-dasharray="3 3" stroke-dashoffset="-1"/>
</g>
<path d="M67 688h3v1h-3zM89 688h8v1h-8zM63 689h4v1h-4zM70 689h1v1h-1zM85 689h4v1h-4zM97 689h5v1h-5zM60 690h3v1h-3zM71 690h1v1h-1zM84 690h1v1h-1zM102 690h1v1h-1zM161 690h6v1h-6zM180 690h2v1h-2zM788 690h2v1h-2zM865 690h6v1h-6zM58 691h2v1h-2zM72 691h1v1h-1zM83 691h1v1h-1zM102 691h1v1h-1zM156 691h5v1h-5zM167 691h2v1h-2zM177 691h3v1h-3zM182 691h1v1h-1zM786 691h2v1h-2zM790 691h1v1h-1zM859 691h6v1h-6zM871 691h2v1h-2zM56 692h2v1h-2zM73 692h1v1h-1zM81 692h2v1h-2zM103 692h1v1h-1zM154 692h2v1h-2zM169 692h3v1h-3zM175 692h2v1h-2zM183 692h1v1h-1zM197 692h2v1h-2zM308 692h5v1h-5zM784 692h2v1h-2zM790 692h1v1h-1zM855 692h4v1h-4zM873 692h3v1h-3zM1219 692h6v1h-6zM54 693h2v1h-2zM74 693h1v1h-1zM80 693h1v1h-1zM104 693h1v1h-1zM152 693h2v1h-2zM172 693h3v1h-3zM183 693h1v1h-1zM196 693h1v1h-1zM199 693h4v1h-4zM305 693h3v1h-3zM313 693h8v1h-8zM417 693h6v1h-6zM782 693h2v1h-2zM791 693h1v1h-1zM849 693h6v1h-6zM876 693h2v1h-2zM1215 693h4v1h-4zM1225 693h5v1h-5zM1492 693h19v1h-19zM53 694h1v1h-1zM75 694h1v1h-1zM79 694h1v1h-1zM104 694h1v1h-1zM150 694h2v1h-2zM184 694h1v1h-1zM195 694h1v1h-1zM203 694h11v1h-11zM303 694h2v1h-2zM321 694h5v1h-5zM413 694h4v1h-4zM423 694h2v1h-2zM753 694h8v1h-8zM781 694h1v1h-1zM792 694h1v1h-1zM845 694h4v1h-4zM878 694h1v1h-1zM1209 694h6v1h-6zM1230 694h1v1h-1zM1490 694h2v1h-2zM1511 694h2v1h-2zM1523 694h4v1h-4zM51 695h2v1h-2zM76 695h1v1h-1zM78 695h1v1h-1zM105 695h1v1h-1zM148 695h2v1h-2zM185 695h1v1h-1zM194 695h1v1h-1zM214 695h1v1h-1zM299 695h4v1h-4zM326 695h1v1h-1zM412 695h1v1h-1zM425 695h3v1h-3zM747 695h6v1h-6zM761 695h5v1h-5zM779 695h2v1h-2zM793 695h1v1h-1zM844 695h1v1h-1zM879 695h2v1h-2zM1201 695h8v1h-8zM1230 695h1v1h-1zM1488 695h2v1h-2zM1513 695h3v1h-3zM1519 695h4v1h-4zM1527 695h2v1h-2zM1588 695h3v1h-3zM49 696h2v1h-2zM77 696h1v1h-1zM106 696h1v1h-1zM146 696h2v1h-2zM186 696h1v1h-1zM193 696h1v1h-1zM215 696h1v1h-1zM295 696h4v1h-4zM327 696h1v1h-1zM412 696h1v1h-1zM428 696h10v1h-10zM743 696h4v1h-4zM766 696h2v1h-2zM777 696h2v1h-2zM793 696h1v1h-1zM843 696h1v1h-1zM881 696h1v1h-1zM1195 696h6v1h-6zM1231 696h1v1h-1zM1486 696h2v1h-2zM1516 696h3v1h-3zM1529 696h3v1h-3zM1537 696h5v1h-5zM1586 696h2v1h-2zM1591 696h4v1h-4zM35 697h4v1h-4zM48 697h1v1h-1zM106 697h1v1h-1zM144 697h2v1h-2zM187 697h1v1h-1zM192 697h1v1h-1zM216 697h1v1h-1zM276 697h5v1h-5zM289 697h6v1h-6zM328 697h1v1h-1zM411 697h1v1h-1zM438 697h1v1h-1zM731 697h12v1h-12zM768 697h2v1h-2zM776 697h1v1h-1zM794 697h1v1h-1zM821 697h4v1h-4zM841 697h2v1h-2zM882 697h1v1h-1zM1165 697h2v1h-2zM1191 697h4v1h-4zM1231 697h1v1h-1zM1485 697h1v1h-1zM1532 697h5v1h-5zM1542 697h1v1h-1zM1584 697h2v1h-2zM1595 697h11v1h-11zM31 698h4v1h-4zM39 698h4v1h-4zM46 698h2v1h-2zM107 698h1v1h-1zM142 698h2v1h-2zM187 698h1v1h-1zM191 698h1v1h-1zM217 698h2v1h-2zM273 698h3v1h-3zM281 698h8v1h-8zM329 698h2v1h-2zM410 698h1v1h-1zM439 698h2v1h-2zM457 698h5v1h-5zM727 698h4v1h-4zM770 698h2v1h-2zM774 698h2v1h-2zM795 698h1v1h-1zM819 698h2v1h-2zM825 698h6v1h-6zM840 698h1v1h-1zM883 698h2v1h-2zM1163 698h2v1h-2zM1167 698h2v1h-2zM1187 698h4v1h-4zM1232 698h1v1h-1zM1483 698h2v1h-2zM1543 698h1v1h-1zM1582 698h2v1h-2zM1606 698h2v1h-2zM29 699h2v1h-2zM43 699h3v1h-3zM108 699h1v1h-1zM137 699h5v1h-5zM188 699h1v1h-1zM190 699h1v1h-1zM219 699h1v1h-1zM244 699h2v1h-2zM271 699h2v1h-2zM331 699h1v1h-1zM410 699h1v1h-1zM441 699h1v1h-1zM452 699h5v1h-5zM462 699h2v1h-2zM476 699h3v1h-3zM725 699h2v1h-2zM772 699h2v1h-2zM796 699h1v1h-1zM817 699h2v1h-2zM831 699h2v1h-2zM839 699h1v1h-1zM885 699h1v1h-1zM1161 699h2v1h-2zM1169 699h3v1h-3zM1183 699h4v1h-4zM1232 699h1v1h-1zM1481 699h2v1h-2zM1544 699h1v1h-1zM1580 699h2v1h-2zM1608 699h2v1h-2zM28 700h1v1h-1zM108 700h1v1h-1zM131 700h6v1h-6zM189 700h1v1h-1zM220 700h1v1h-1zM241 700h3v1h-3zM246 700h1v1h-1zM265 700h6v1h-6zM332 700h1v1h-1zM409 700h1v1h-1zM442 700h1v1h-1zM449 700h3v1h-3zM464 700h2v1h-2zM473 700h3v1h-3zM479 700h2v1h-2zM723 700h2v1h-2zM796 700h1v1h-1zM816 700h1v1h-1zM833 700h3v1h-3zM838 700h1v1h-1zM886 700h1v1h-1zM1045 700h1v1h-1zM1140 700h2v1h-2zM1160 700h1v1h-1zM1172 700h11v1h-11zM1233 700h1v1h-1zM1284 700h3v1h-3zM1480 700h1v1h-1zM1545 700h1v1h-1zM1578 700h2v1h-2zM1610 700h2v1h-2zM27 701h1v1h-1zM109 701h12v1h-12zM127 701h4v1h-4zM221 701h4v1h-4zM239 701h2v1h-2zM247 701h2v1h-2zM260 701h5v1h-5zM333 701h4v1h-4zM408 701h1v1h-1zM443 701h2v1h-2zM447 701h2v1h-2zM466 701h2v1h-2zM471 701h2v1h-2zM481 701h3v1h-3zM701 701h10v1h-10zM721 701h2v1h-2zM797 701h1v1h-1zM814 701h2v1h-2zM836 701h2v1h-2zM887 701h1v1h-1zM1044 701h1v1h-1zM1046 701h1v1h-1zM1137 701h3v1h-3zM1142 701h1v1h-1zM1158 701h2v1h-2zM1233 701h1v1h-1zM1282 701h2v1h-2zM1287 701h2v1h-2zM1478 701h2v1h-2zM1546 701h1v1h-1zM1564 701h3v1h-3zM1576 701h2v1h-2zM1612 701h19v1h-19zM25 702h2v1h-2zM121 702h6v1h-6zM225 702h14v1h-14zM249 702h1v1h-1zM258 702h2v1h-2zM337 702h5v1h-5zM408 702h1v1h-1zM445 702h2v1h-2zM468 702h3v1h-3zM484 702h2v1h-2zM645 702h1v1h-1zM700 702h1v1h-1zM711 702h2v1h-2zM720 702h1v1h-1zM798 702h2v1h-2zM812 702h2v1h-2zM888 702h1v1h-1zM1043 702h1v1h-1zM1047 702h1v1h-1zM1135 702h2v1h-2zM1143 702h2v1h-2zM1156 702h2v1h-2zM1234 702h1v1h-1zM1251 702h6v1h-6zM1280 702h2v1h-2zM1289 702h3v1h-3zM1475 702h3v1h-3zM1547 702h1v1h-1zM1561 702h3v1h-3zM1567 702h4v1h-4zM1574 702h2v1h-2zM1631 702h2v1h-2zM24 703h1v1h-1zM250 703h1v1h-1zM256 703h2v1h-2zM342 703h1v1h-1zM381 703h1v1h-1zM407 703h1v1h-1zM486 703h1v1h-1zM644 703h1v1h-1zM646 703h1v1h-1zM699 703h1v1h-1zM713 703h3v1h-3zM718 703h2v1h-2zM800 703h2v1h-2zM809 703h3v1h-3zM889 703h2v1h-2zM1041 703h2v1h-2zM1048 703h1v1h-1zM1132 703h3v1h-3zM1145 703h1v1h-1zM1154 703h2v1h-2zM1234 703h1v1h-1zM1247 703h4v1h-4zM1257 703h5v1h-5zM1278 703h2v1h-2zM1292 703h2v1h-2zM1471 703h4v1h-4zM1548 703h1v1h-1zM1559 703h2v1h-2zM1571 703h3v1h-3zM1633 703h3v1h-3zM1649 703h13v1h-13zM23 704h1v1h-1zM251 704h2v1h-2zM254 704h2v1h-2zM343 704h1v1h-1zM380 704h1v1h-1zM382 704h2v1h-2zM396 704h3v1h-3zM406 704h1v1h-1zM487 704h1v1h-1zM501 704h1v1h-1zM643 704h1v1h-1zM647 704h1v1h-1zM698 704h1v1h-1zM716 704h2v1h-2zM802 704h2v1h-2zM807 704h2v1h-2zM891 704h1v1h-1zM1040 704h1v1h-1zM1049 704h2v1h-2zM1076 704h10v1h-10zM1129 704h3v1h-3zM1146 704h1v1h-1zM1152 704h2v1h-2zM1235 704h1v1h-1zM1244 704h3v1h-3zM1262 704h2v1h-2zM1276 704h2v1h-2zM1294 704h1v1h-1zM1467 704h4v1h-4zM1549 704h10v1h-10zM1636 704h13v1h-13zM22 705h1v1h-1zM253 705h1v1h-1zM344 705h1v1h-1zM379 705h1v1h-1zM384 705h2v1h-2zM393 705h3v1h-3zM399 705h4v1h-4zM406 705h1v1h-1zM488 705h1v1h-1zM500 705h1v1h-1zM502 705h1v1h-1zM641 705h2v1h-2zM648 705h1v1h-1zM697 705h1v1h-1zM804 705h3v1h-3zM892 705h1v1h-1zM1039 705h1v1h-1zM1051 705h1v1h-1zM1074 705h2v1h-2zM1086 705h2v1h-2zM1127 705h2v1h-2zM1147 705h2v1h-2zM1150 705h2v1h-2zM1235 705h1v1h-1zM1242 705h2v1h-2zM1264 705h2v1h-2zM1273 705h3v1h-3zM1294 705h1v1h-1zM1463 705h4v1h-4zM21 706h1v1h-1zM345 706h1v1h-1zM377 706h2v1h-2zM386 706h2v1h-2zM391 706h2v1h-2zM403 706h3v1h-3zM489 706h1v1h-1zM499 706h1v1h-1zM503 706h1v1h-1zM640 706h1v1h-1zM649 706h2v1h-2zM696 706h1v1h-1zM893 706h9v1h-9zM1028 706h5v1h-5zM1038 706h1v1h-1zM1052 706h1v1h-1zM1057 706h6v1h-6zM1072 706h2v1h-2zM1088 706h2v1h-2zM1125 706h2v1h-2zM1149 706h1v1h-1zM1236 706h1v1h-1zM1240 706h2v1h-2zM1266 706h2v1h-2zM1271 706h2v1h-2zM1295 706h1v1h-1zM1461 706h2v1h-2zM20 707h1v1h-1zM346 707h1v1h-1zM356 707h2v1h-2zM376 707h1v1h-1zM388 707h3v1h-3zM489 707h1v1h-1zM497 707h2v1h-2zM504 707h1v1h-1zM639 707h1v1h-1zM651 707h1v1h-1zM684 707h3v1h-3zM695 707h1v1h-1zM902 707h1v1h-1zM1026 707h2v1h-2zM1033 707h5v1h-5zM1053 707h4v1h-4zM1063 707h4v1h-4zM1070 707h2v1h-2zM1090 707h2v1h-2zM1123 707h2v1h-2zM1236 707h1v1h-1zM1238 707h2v1h-2zM1268 707h3v1h-3zM1295 707h1v1h-1zM1459 707h2v1h-2zM19 708h1v1h-1zM347 708h1v1h-1zM353 708h3v1h-3zM358 708h2v1h-2zM375 708h1v1h-1zM490 708h1v1h-1zM496 708h1v1h-1zM505 708h2v1h-2zM638 708h1v1h-1zM652 708h1v1h-1zM682 708h2v1h-2zM687 708h4v1h-4zM694 708h1v1h-1zM903 708h2v1h-2zM1024 708h2v1h-2zM1067 708h3v1h-3zM1092 708h2v1h-2zM1121 708h2v1h-2zM1237 708h1v1h-1zM1296 708h1v1h-1zM1420 708h2v1h-2zM1445 708h2v1h-2zM1457 708h2v1h-2zM18 709h1v1h-1zM348 709h1v1h-1zM351 709h2v1h-2zM360 709h2v1h-2zM374 709h1v1h-1zM491 709h1v1h-1zM495 709h1v1h-1zM507 709h1v1h-1zM635 709h3v1h-3zM653 709h1v1h-1zM680 709h2v1h-2zM691 709h3v1h-3zM905 709h1v1h-1zM1022 709h2v1h-2zM1094 709h2v1h-2zM1120 709h1v1h-1zM1296 709h1v1h-1zM1418 709h2v1h-2zM1422 709h1v1h-1zM1444 709h1v1h-1zM1447 709h2v1h-2zM1456 709h1v1h-1zM17 710h1v1h-1zM349 710h2v1h-2zM362 710h2v1h-2zM369 710h5v1h-5zM492 710h1v1h-1zM494 710h1v1h-1zM508 710h1v1h-1zM513 710h5v1h-5zM596 710h11v1h-11zM631 710h4v1h-4zM654 710h2v1h-2zM678 710h2v1h-2zM906 710h1v1h-1zM1020 710h2v1h-2zM1096 710h1v1h-1zM1118 710h2v1h-2zM1297 710h1v1h-1zM1403 710h4v1h-4zM1416 710h2v1h-2zM1423 710h1v1h-1zM1443 710h1v1h-1zM1449 710h3v1h-3zM1454 710h2v1h-2zM17 711h1v1h-1zM364 711h5v1h-5zM493 711h1v1h-1zM509 711h4v1h-4zM518 711h2v1h-2zM594 711h2v1h-2zM607 711h4v1h-4zM625 711h6v1h-6zM656 711h2v1h-2zM676 711h2v1h-2zM907 711h2v1h-2zM1017 711h3v1h-3zM1097 711h2v1h-2zM1116 711h2v1h-2zM1297 711h1v1h-1zM1399 711h4v1h-4zM1407 711h4v1h-4zM1414 711h2v1h-2zM1423 711h1v1h-1zM1441 711h2v1h-2zM1452 711h2v1h-2zM16 712h1v1h-1zM520 712h2v1h-2zM592 712h2v1h-2zM611 712h14v1h-14zM658 712h2v1h-2zM674 712h2v1h-2zM909 712h2v1h-2zM1005 712h4v1h-4zM1015 712h2v1h-2zM1099 712h2v1h-2zM1114 712h2v1h-2zM1298 712h1v1h-1zM1397 712h2v1h-2zM1411 712h3v1h-3zM1424 712h1v1h-1zM1440 712h1v1h-1zM15 713h1v1h-1zM522 713h2v1h-2zM590 713h2v1h-2zM660 713h3v1h-3zM672 713h2v1h-2zM911 713h2v1h-2zM1004 713h1v1h-1zM1009 713h6v1h-6zM1101 713h2v1h-2zM1112 713h2v1h-2zM1298 713h1v1h-1zM1333 713h1v1h-1zM1396 713h1v1h-1zM1425 713h1v1h-1zM1439 713h1v1h-1zM14 714h1v1h-1zM524 714h11v1h-11zM587 714h3v1h-3zM663 714h4v1h-4zM670 714h2v1h-2zM913 714h3v1h-3zM1003 714h1v1h-1zM1103 714h4v1h-4zM1110 714h2v1h-2zM1299 714h1v1h-1zM1331 714h2v1h-2zM1334 714h1v1h-1zM1396 714h1v1h-1zM1426 714h1v1h-1zM1438 714h1v1h-1zM9 715h5v1h-5zM535 715h2v1h-2zM583 715h4v1h-4zM667 715h3v1h-3zM916 715h3v1h-3zM1001 715h2v1h-2zM1107 715h3v1h-3zM1299 715h1v1h-1zM1329 715h2v1h-2zM1335 715h1v1h-1zM1395 715h1v1h-1zM1427 715h1v1h-1zM1436 715h2v1h-2zM5 716h4v1h-4zM537 716h3v1h-3zM580 716h3v1h-3zM919 716h2v1h-2zM1000 716h1v1h-1zM1300 716h1v1h-1zM1328 716h1v1h-1zM1336 716h1v1h-1zM1395 716h1v1h-1zM1427 716h1v1h-1zM1433 716h3v1h-3zM540 717h2v1h-2zM578 717h2v1h-2zM921 717h3v1h-3zM929 717h5v1h-5zM999 717h1v1h-1zM1300 717h1v1h-1zM1326 717h2v1h-2zM1337 717h1v1h-1zM1394 717h1v1h-1zM1428 717h1v1h-1zM1431 717h2v1h-2zM542 718h2v1h-2zM576 718h2v1h-2zM924 718h5v1h-5zM934 718h2v1h-2zM998 718h1v1h-1zM1301 718h1v1h-1zM1317 718h9v1h-9zM1337 718h1v1h-1zM1394 718h1v1h-1zM1429 718h2v1h-2zM544 719h2v1h-2zM574 719h2v1h-2zM936 719h2v1h-2zM996 719h2v1h-2zM1302 719h1v1h-1zM1316 719h1v1h-1zM1338 719h1v1h-1zM1393 719h1v1h-1zM546 720h2v1h-2zM563 720h11v1h-11zM938 720h2v1h-2zM993 720h3v1h-3zM1303 720h1v1h-1zM1315 720h1v1h-1zM1339 720h1v1h-1zM1393 720h1v1h-1zM548 721h5v1h-5zM559 721h4v1h-4zM940 721h13v1h-13zM973 721h4v1h-4zM991 721h2v1h-2zM1304 721h1v1h-1zM1313 721h2v1h-2zM1340 721h1v1h-1zM1392 721h1v1h-1zM553 722h6v1h-6zM953 722h5v1h-5zM972 722h1v1h-1zM977 722h14v1h-14zM1305 722h2v1h-2zM1312 722h1v1h-1zM1341 722h2v1h-2zM1355 722h12v1h-12zM1392 722h1v1h-1zM958 723h1v1h-1zM971 723h1v1h-1zM1307 723h1v1h-1zM1311 723h1v1h-1zM1343 723h4v1h-4zM1351 723h4v1h-4zM1367 723h4v1h-4zM1391 723h1v1h-1zM959 724h1v1h-1zM970 724h1v1h-1zM1308 724h1v1h-1zM1310 724h1v1h-1zM1347 724h4v1h-4zM1371 724h4v1h-4zM1391 724h1v1h-1zM960 725h1v1h-1zM969 725h1v1h-1zM1309 725h1v1h-1zM1375 725h4v1h-4zM1390 725h1v1h-1zM961 726h2v1h-2zM968 726h1v1h-1zM1379 726h6v1h-6zM1390 726h1v1h-1zM963 727h1v1h-1zM967 727h1v1h-1zM1385 727h5v1h-5zM964 728h1v1h-1zM966 728h1v1h-1zM965 729h1v1h-1z" fill="#1e90ff" shape-rendering="crispEdges"/>
<text x="8.7" y="671.2" font-size="10" fill="#000" stroke="#000" stroke-width="0.25" textLength="68.1" lengthAdjust="spacingAndGlyphs">RSI(14) 56.7761</text>
<rect x="1680" y="660" width="2" height="1" fill="#000"/>
<text x="1683" y="669" font-size="10" fill="#000" stroke="#000" stroke-width="0.25" textLength="16" lengthAdjust="spacingAndGlyphs">100</text>
<text x="1683" y="694" font-size="10" fill="#000" stroke="#000" stroke-width="0.25" textLength="10.5" lengthAdjust="spacingAndGlyphs">70</text>
<text x="1683" y="734" font-size="10" fill="#000" stroke="#000" stroke-width="0.25" textLength="10.5" lengthAdjust="spacingAndGlyphs">30</text>
<text x="1683" y="758" font-size="10" fill="#000" stroke="#000" stroke-width="0.25" textLength="5.3" lengthAdjust="spacingAndGlyphs">0</text>
<rect x="5" y="762" width="1" height="3" fill="#000"/>
<text x="4" y="774" font-size="10" fill="#000" stroke="#000" stroke-width="0.25" textLength="45.6" lengthAdjust="spacingAndGlyphs">3 Apr 2020</text>
<rect x="69" y="762" width="1" height="3" fill="#000"/>
<text x="68" y="774" font-size="10" fill="#000" stroke="#000" stroke-width="0.25" textLength="49" lengthAdjust="spacingAndGlyphs">6 Apr 20:00</text>
<rect x="133" y="762" width="1" height="3" fill="#000"/>
<text x="132" y="774" font-size="10" fill="#000" stroke="#000" stroke-width="0.25" textLength="49" lengthAdjust="spacingAndGlyphs">8 Apr 04:00</text>
<rect x="197" y="762" width="1" height="3" fill="#000"/>
<text x="196" y="774" font-size="10" fill="#000" stroke="#000" stroke-width="0.25" textLength="49" lengthAdjust="spacingAndGlyphs">9 Apr 12:00</text>
<rect x="261" y="762" width="1" height="3" fill="#000"/>
<text x="260" y="774" font-size="10" fill="#000" stroke="#000" stroke-width="0.25" textLength="53" lengthAdjust="spacingAndGlyphs">13 Apr 16:00</text>
<rect x="325" y="762" width="1" height="3" fill="#000"/>
<text x="324" y="774" font-size="10" fill="#000" stroke="#000" stroke-width="0.25" textLength="53" lengthAdjust="spacingAndGlyphs">15 Apr 00:00</text>
<rect x="389" y="762" width="1" height="3" fill="#000"/>
<text x="388" y="774" font-size="10" fill="#000" stroke="#000" stroke-width="0.25" textLength="53" lengthAdjust="spacingAndGlyphs">16 Apr 08:00</text>
<rect x="453" y="762" width="1" height="3" fill="#000"/>
<text x="452" y="774" font-size="10" fill="#000" stroke="#000" stroke-width="0.25" textLength="53" lengthAdjust="spacingAndGlyphs">17 Apr 16:00</text>
<rect x="517" y="762" width="1" height="3" fill="#000"/>
<text x="516" y="774" font-size="10" fill="#000" stroke="#000" stroke-width="0.25" textLength="53" lengthAdjust="spacingAndGlyphs">20 Apr 20:00</text>
<rect x="581" y="762" width="1" height="3" fill="#000"/>
<text x="580" y="774" font-size="10" fill="#000" stroke="#000" stroke-width="0.25" textLength="53" lengthAdjust="spacingAndGlyphs">22 Apr 04:00</text>
<rect x="645" y="762" width="1" height="3" fill="#000"/>
<text x="644" y="774" font-size="10" fill="#000" stroke="#000" stroke-width="0.25" textLength="53" lengthAdjust="spacingAndGlyphs">23 Apr 12:00</text>
<rect x="709" y="762" width="1" height="3" fill="#000"/>
<text x="708" y="774" font-size="10" fill="#000" stroke="#000" stroke-width="0.25" textLength="53" lengthAdjust="spacingAndGlyphs">24 Apr 20:00</text>
<rect x="773" y="762" width="1" height="3" fill="#000"/>
<text x="772" y="774" font-size="10" fill="#000" stroke="#000" stroke-width="0.25" textLength="53" lengthAdjust="spacingAndGlyphs">28 Apr 00:00</text>
<rect x="837" y="762" width="1" height="3" fill="#000"/>
<text x="836" y="774" font-size="10" fill="#000" stroke="#000" stroke-width="0.25" textLength="53" lengthAdjust="spacingAndGlyphs">29 Apr 08:00</text>
<rect x="901" y="762" width="1" height="3" fill="#000"/>
<text x="900" y="774" font-size="10" fill="#000" stroke="#000" stroke-width="0.25" textLength="53" lengthAdjust="spacingAndGlyphs">30 Apr 16:00</text>
<rect x="965" y="762" width="1" height="3" fill="#000"/>
<text x="964" y="774" font-size="10" fill="#000" stroke="#000" stroke-width="0.25" textLength="53" lengthAdjust="spacingAndGlyphs">3 May 23:00</text>
<rect x="1029" y="762" width="1" height="3" fill="#000"/>
<text x="1028" y="774" font-size="10" fill="#000" stroke="#000" stroke-width="0.25" textLength="53" lengthAdjust="spacingAndGlyphs">5 May 04:00</text>
<rect x="1093" y="762" width="1" height="3" fill="#000"/>
<text x="1092" y="774" font-size="10" fill="#000" stroke="#000" stroke-width="0.25" textLength="53" lengthAdjust="spacingAndGlyphs">6 May 12:00</text>
<rect x="1157" y="762" width="1" height="3" fill="#000"/>
<text x="1156" y="774" font-size="10" fill="#000" stroke="#000" stroke-width="0.25" textLength="53" lengthAdjust="spacingAndGlyphs">7 May 20:00</text>
<rect x="1221" y="762" width="1" height="3" fill="#000"/>
<text x="1220" y="774" font-size="10" fill="#000" stroke="#000" stroke-width="0.25" textLength="57.6" lengthAdjust="spacingAndGlyphs">11 May 00:00</text>
<rect x="1285" y="762" width="1" height="3" fill="#000"/>
<text x="1284" y="774" font-size="10" fill="#000" stroke="#000" stroke-width="0.25" textLength="57.6" lengthAdjust="spacingAndGlyphs">12 May 08:00</text>
<rect x="1349" y="762" width="1" height="3" fill="#000"/>
<text x="1348" y="774" font-size="10" fill="#000" stroke="#000" stroke-width="0.25" textLength="57.6" lengthAdjust="spacingAndGlyphs">13 May 16:00</text>
<rect x="1413" y="762" width="1" height="3" fill="#000"/>
<text x="1412" y="774" font-size="10" fill="#000" stroke="#000" stroke-width="0.25" textLength="57.6" lengthAdjust="spacingAndGlyphs">15 May 00:00</text>
<rect x="1477" y="762" width="1" height="3" fill="#000"/>
<text x="1476" y="774" font-size="10" fill="#000" stroke="#000" stroke-width="0.25" textLength="57.6" lengthAdjust="spacingAndGlyphs">18 May 04:00</text>
<rect x="1541" y="762" width="1" height="3" fill="#000"/>
<text x="1540" y="774" font-size="10" fill="#000" stroke="#000" stroke-width="0.25" textLength="57.6" lengthAdjust="spacingAndGlyphs">19 May 12:00</text>
<rect x="1605" y="762" width="1" height="3" fill="#000"/>
<text x="1604" y="774" font-size="10" fill="#000" stroke="#000" stroke-width="0.25" textLength="57.6" lengthAdjust="spacingAndGlyphs">20 May 20:00</text>
</svg>
</body></html>
